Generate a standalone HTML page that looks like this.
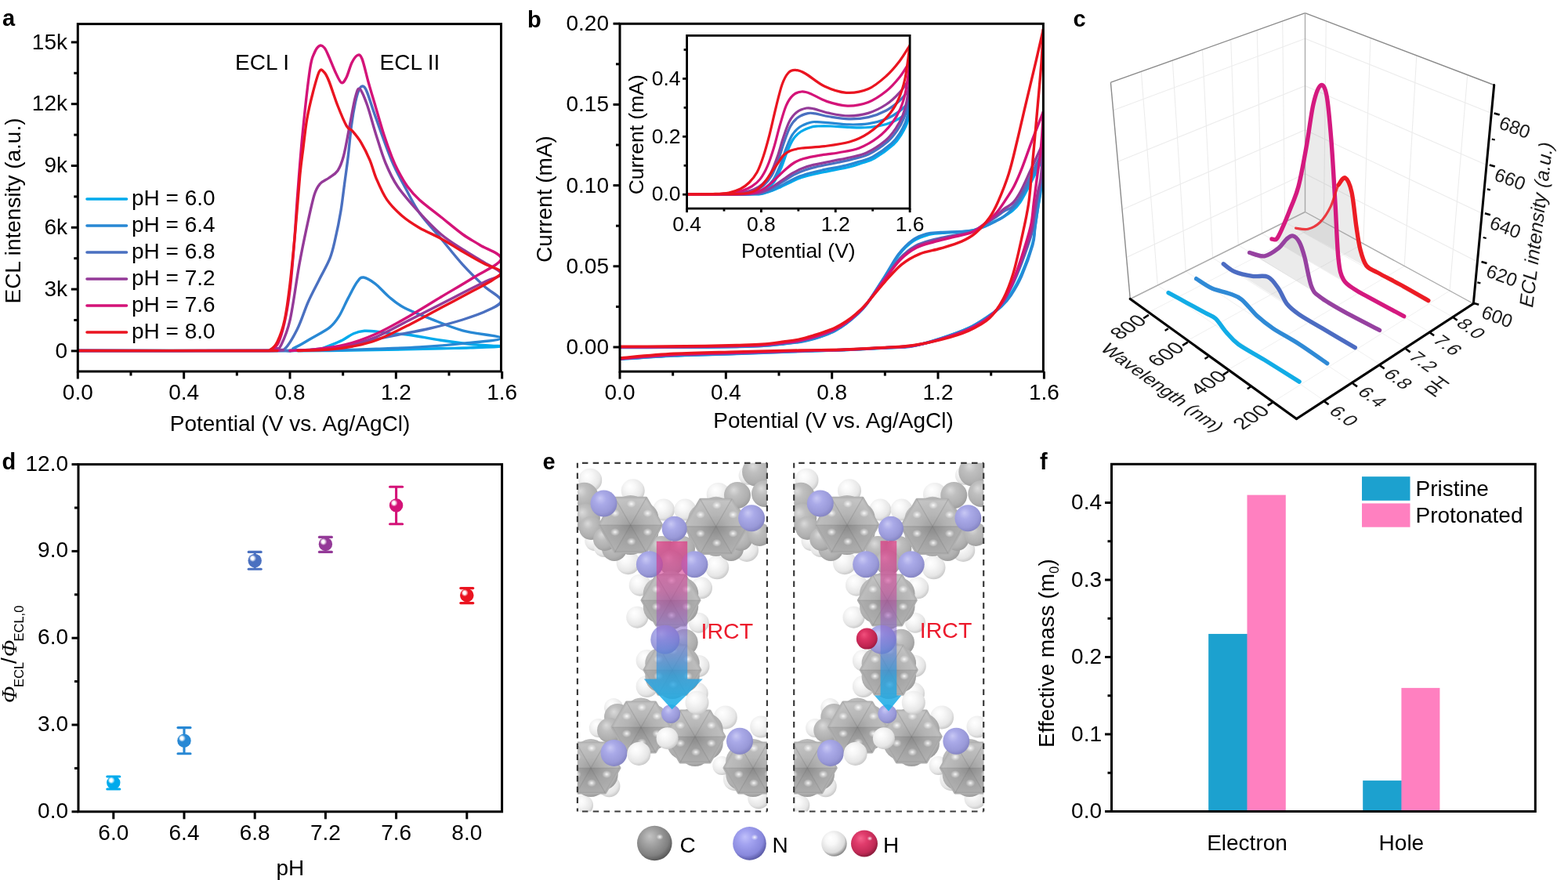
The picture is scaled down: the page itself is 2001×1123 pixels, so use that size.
<!DOCTYPE html>
<html lang="en"><head><meta charset="utf-8"><title>ECL figure</title><style>html,body{margin:0;padding:0;background:#fff;overflow:hidden}svg{display:block}</style></head><body>
<svg width="2001" height="1123" viewBox="0 0 2001 1123">
<defs><clipPath id="clipA"><rect x="99.3" y="30.6" width="540.2" height="443.4"/></clipPath><clipPath id="clipB"><rect x="791" y="30.3" width="540.4" height="443.8"/></clipPath><clipPath id="clipI"><rect x="876.6" y="45.4" width="284.5" height="220.7"/></clipPath><radialGradient id="ball0" cx="0.36" cy="0.34" r="0.62" fx="0.34" fy="0.32"><stop offset="0" stop-color="#ffffff"/><stop offset="0.18" stop-color="#ffffff" stop-opacity="0.85"/><stop offset="0.42" stop-color="#00AAEC"/><stop offset="1" stop-color="#00AAEC"/></radialGradient>
<radialGradient id="ball1" cx="0.36" cy="0.34" r="0.62" fx="0.34" fy="0.32"><stop offset="0" stop-color="#ffffff"/><stop offset="0.18" stop-color="#ffffff" stop-opacity="0.85"/><stop offset="0.42" stop-color="#2888D4"/><stop offset="1" stop-color="#2888D4"/></radialGradient>
<radialGradient id="ball2" cx="0.36" cy="0.34" r="0.62" fx="0.34" fy="0.32"><stop offset="0" stop-color="#ffffff"/><stop offset="0.18" stop-color="#ffffff" stop-opacity="0.85"/><stop offset="0.42" stop-color="#4A70C0"/><stop offset="1" stop-color="#4A70C0"/></radialGradient>
<radialGradient id="ball3" cx="0.36" cy="0.34" r="0.62" fx="0.34" fy="0.32"><stop offset="0" stop-color="#ffffff"/><stop offset="0.18" stop-color="#ffffff" stop-opacity="0.85"/><stop offset="0.42" stop-color="#943A98"/><stop offset="1" stop-color="#943A98"/></radialGradient>
<radialGradient id="ball4" cx="0.36" cy="0.34" r="0.62" fx="0.34" fy="0.32"><stop offset="0" stop-color="#ffffff"/><stop offset="0.18" stop-color="#ffffff" stop-opacity="0.85"/><stop offset="0.42" stop-color="#D41378"/><stop offset="1" stop-color="#D41378"/></radialGradient>
<radialGradient id="ball5" cx="0.36" cy="0.34" r="0.62" fx="0.34" fy="0.32"><stop offset="0" stop-color="#ffffff"/><stop offset="0.18" stop-color="#ffffff" stop-opacity="0.85"/><stop offset="0.42" stop-color="#EA1420"/><stop offset="1" stop-color="#EA1420"/></radialGradient><radialGradient id="gC" cx="0.42" cy="0.38" r="0.62" fx="0.36" fy="0.3"><stop offset="0" stop-color="#dadada"/><stop offset="0.35" stop-color="#bfbfbf"/><stop offset="0.8" stop-color="#afafaf"/><stop offset="1" stop-color="#9e9e9e"/></radialGradient>
<radialGradient id="gH" cx="0.42" cy="0.38" r="0.62" fx="0.36" fy="0.3"><stop offset="0" stop-color="#ffffff"/><stop offset="0.35" stop-color="#f7f7f7"/><stop offset="0.8" stop-color="#e6e6e6"/><stop offset="1" stop-color="#cbcbcb"/></radialGradient>
<radialGradient id="gN" cx="0.42" cy="0.38" r="0.62" fx="0.36" fy="0.3"><stop offset="0" stop-color="#c8c8f4"/><stop offset="0.35" stop-color="#aaaae8"/><stop offset="0.8" stop-color="#9999d8"/><stop offset="1" stop-color="#8686c4"/></radialGradient>
<radialGradient id="gP" cx="0.42" cy="0.38" r="0.62" fx="0.36" fy="0.3"><stop offset="0" stop-color="#f0507c"/><stop offset="0.35" stop-color="#dc3464"/><stop offset="0.8" stop-color="#c02552"/><stop offset="1" stop-color="#a01c44"/></radialGradient>
<radialGradient id="gCL" cx="0.42" cy="0.38" r="0.62" fx="0.36" fy="0.3"><stop offset="0" stop-color="#c2c2c2"/><stop offset="0.35" stop-color="#a4a4a4"/><stop offset="0.8" stop-color="#808080"/><stop offset="1" stop-color="#5a5a5a"/></radialGradient>
<radialGradient id="gNL" cx="0.42" cy="0.38" r="0.62" fx="0.36" fy="0.3"><stop offset="0" stop-color="#c0c0fa"/><stop offset="0.35" stop-color="#a2a2f0"/><stop offset="0.8" stop-color="#8888dc"/><stop offset="1" stop-color="#5c5ca8"/></radialGradient>
<radialGradient id="gHL" cx="0.42" cy="0.38" r="0.62" fx="0.36" fy="0.3"><stop offset="0" stop-color="#ffffff"/><stop offset="0.35" stop-color="#f8f8f8"/><stop offset="0.8" stop-color="#dcdcdc"/><stop offset="1" stop-color="#8a8a8a"/></radialGradient>
<radialGradient id="gPL" cx="0.42" cy="0.38" r="0.62" fx="0.36" fy="0.3"><stop offset="0" stop-color="#f4628c"/><stop offset="0.35" stop-color="#e03c6c"/><stop offset="0.8" stop-color="#c22a56"/><stop offset="1" stop-color="#8c1c3c"/></radialGradient>
<radialGradient id="gHex" cx="0.5" cy="0.5" r="0.5"><stop offset="0" stop-color="#939393"/><stop offset="0.45" stop-color="#ababab"/><stop offset="1" stop-color="#bababa"/></radialGradient>
<radialGradient id="gHi"><stop offset="0" stop-color="#fff" stop-opacity="0.9"/><stop offset="0.45" stop-color="#fff" stop-opacity="0.45"/><stop offset="1" stop-color="#fff" stop-opacity="0"/></radialGradient>
<linearGradient id="gArrow" x1="0" y1="0" x2="0" y2="1"><stop offset="0" stop-color="#e0287a" stop-opacity="0.66"/><stop offset="0.3" stop-color="#c8409a" stop-opacity="0.55"/><stop offset="0.55" stop-color="#7a6ad0" stop-opacity="0.55"/><stop offset="0.8" stop-color="#2aa0e0" stop-opacity="0.78"/><stop offset="1" stop-color="#18b0e8" stop-opacity="0.9"/></linearGradient>
<clipPath id="clipE0"><rect x="736.9" y="590.8" width="242" height="444.7"/></clipPath>
<clipPath id="clipE1"><rect x="1013.2" y="590.8" width="242" height="444.7"/></clipPath></defs>
<rect width="2001" height="1123" fill="#fff"/>
<text x="3" y="33" font-size="29" text-anchor="start" font-weight="bold" fill="#000" font-family='"Liberation Sans", Arial, Helvetica, sans-serif'>a</text>
<g clip-path="url(#clipA)" fill="none" stroke-width="3.4" stroke-linejoin="round" stroke-linecap="round">
<path d="M99.3,447.5 C146.08,447.5 329.05,447.67 380,447.5 C430.95,447.33 398.17,447.62 405,446.5 C411.83,445.38 415.63,442.9 421,440.8 C426.37,438.7 432.18,436.42 437.2,433.9 C442.22,431.38 446.47,427.63 451.1,425.7 C455.73,423.77 459.58,422.68 465,422.3 C470.42,421.92 477.8,422.83 483.6,423.4 C489.4,423.97 493.5,425.05 499.8,425.7 C506.1,426.35 510.9,425.88 521.4,427.3 C531.9,428.72 549,432.13 562.8,434.2 C576.6,436.27 591.42,438.4 604.2,439.7 C616.98,441 640.2,441.32 639.5,442 C638.8,442.68 612.78,443.35 600,443.8 C587.22,444.25 582.8,444.23 562.8,444.7 C542.8,445.17 503.8,446.13 480,446.6 C456.2,447.07 436.67,447.35 420,447.5 C403.33,447.65 386.67,447.5 380,447.5" stroke="#00AAEC"/>
<path d="M99.3,447.5 C141.92,447.5 309.1,448.03 355,447.5 C400.9,446.97 367.55,446.97 374.7,444.3 C381.85,441.63 390.18,435.95 397.9,431.5 C405.62,427.05 415.22,422.23 421,417.6 C426.78,412.97 428.73,409.87 432.6,403.7 C436.47,397.53 440.33,387.92 444.2,380.6 C448.07,373.28 452.52,364.23 455.8,359.8 C459.08,355.37 460.05,353.62 463.9,354 C467.75,354.38 473.45,357.93 478.9,362.1 C484.35,366.27 490.43,373.88 496.6,379 C502.77,384.12 507.17,388.2 515.9,392.8 C524.63,397.4 536.58,401.77 549,406.6 C561.42,411.43 575.32,417.65 590.4,421.8 C605.48,425.95 639.5,428.73 639.5,431.5 C639.5,434.27 607.78,436.48 590.4,438.4 C573.02,440.32 553.6,441.85 535.2,443 C516.8,444.15 499.2,444.63 480,445.3 C460.8,445.97 436.67,446.63 420,447 C403.33,447.37 386.67,447.42 380,447.5" stroke="#2888D4"/>
<path d="M99.3,447.5 C140.75,447.5 304.02,447.85 348,447.5 C391.98,447.15 357.97,449.98 363.2,445.4 C368.43,440.82 374.38,430.03 379.4,420 C384.42,409.97 388.68,395.63 393.3,385.2 C397.92,374.77 402.48,366.65 407.1,357.4 C411.72,348.15 417.52,338.57 421,329.7 C424.48,320.83 425.68,314.23 428,304.2 C430.32,294.17 432.97,281.08 434.9,269.5 C436.83,257.92 438.05,246.28 439.6,234.7 C441.15,223.12 442.72,212.45 444.2,200 C445.68,187.55 446.97,171.5 448.5,160 C450.03,148.5 451.82,138.5 453.4,131 C454.98,123.5 456.43,118.5 458,115 C459.57,111.5 461.07,109.58 462.8,110 C464.53,110.42 465.6,110.8 468.4,117.5 C471.2,124.2 474.33,135.57 479.6,150.2 C484.87,164.83 493.6,190.17 500,205.3 C506.4,220.43 512.13,229.98 518,241 C523.87,252.02 527.73,260.82 535.2,271.4 C542.67,281.98 553.6,293.47 562.8,304.5 C572,315.53 581.2,327.48 590.4,337.6 C599.6,347.72 609.82,357.6 618,365.2 C626.18,372.8 638.58,378.13 639.5,383.2 C640.42,388.27 631.68,391.47 623.5,395.6 C615.32,399.73 602.82,404.1 590.4,408 C577.98,411.9 562.8,415.78 549,419 C535.2,422.22 519.1,425 507.6,427.3 C496.1,429.6 491.27,430.52 480,432.8 C468.73,435.08 453.33,438.8 440,441 C426.67,443.2 411.67,444.92 400,446 C388.33,447.08 375,447.25 370,447.5" stroke="#4A70C0"/>
<path d="M99.3,447.5 C139.42,447.5 297.88,447.92 340,447.5 C382.12,447.08 348.92,446.12 352,445 C355.08,443.88 355.48,446.9 358.5,440.8 C361.52,434.7 366.23,425.38 370.1,408.4 C373.97,391.42 378.23,358.2 381.7,338.9 C385.17,319.6 387.68,307.58 390.9,292.6 C394.12,277.62 398.07,258.68 401,249 C403.93,239.32 405.37,238.17 408.5,234.5 C411.63,230.83 416.05,229.8 419.8,227 C423.55,224.2 427.88,222.37 431,217.7 C434.12,213.03 436,208.35 438.5,199 C441,189.65 443.52,174.07 446,161.6 C448.48,149.13 451.23,132.22 453.4,124.2 C455.57,116.18 456.5,111.95 459,113.5 C461.5,115.05 464.97,123.93 468.4,133.5 C471.83,143.07 475.67,158.48 479.6,170.9 C483.53,183.32 487.33,196.77 492,208 C496.67,219.23 500.4,227.73 507.6,238.3 C514.8,248.87 526,261.28 535.2,271.4 C544.4,281.52 553.6,291.18 562.8,299 C572,306.82 581.2,312.32 590.4,318.3 C599.6,324.28 609.82,329.75 618,334.9 C626.18,340.05 639.17,345.18 639.5,349.2 C639.83,353.22 628.25,354.87 620,359 C611.75,363.13 599.53,369.17 590,374 C580.47,378.83 574.23,382.17 562.8,388 C551.37,393.83 535.2,402 521.4,409 C507.6,416 493.57,424.58 480,430 C466.43,435.42 453.33,438.75 440,441.5 C426.67,444.25 411.67,445.5 400,446.5 C388.33,447.5 375,447.33 370,447.5" stroke="#943A98"/>
<path d="M99.3,447.5 C138.58,447.5 293.88,447.75 335,447.5 C376.12,447.25 342.67,447.58 346,446 C349.33,444.42 352.17,443.67 355,438 C357.83,432.33 360.5,423.33 363,412 C365.5,400.67 367.92,387 370,370 C372.08,353 373.9,330 375.5,310 C377.1,290 377.83,273.17 379.6,250 C381.37,226.83 383.45,197.9 386.1,171 C388.75,144.1 393.02,105.77 395.5,88.6 C397.98,71.43 398.98,73.02 401,68 C403.02,62.98 405.43,59.67 407.6,58.5 C409.77,57.33 411.93,58.58 414,61 C416.07,63.42 417.67,67.83 420,73 C422.33,78.17 425.38,86.58 428,92 C430.62,97.42 433.37,104.33 435.7,105.5 C438.03,106.67 439.78,103.25 442,99 C444.22,94.75 446.63,84.75 449,80 C451.37,75.25 454.03,71.33 456.2,70.5 C458.37,69.67 459.65,69.17 462,75 C464.35,80.83 467.37,95.13 470.3,105.5 C473.23,115.87 476.32,126.12 479.6,137.2 C482.88,148.28 486.6,161.53 490,172 C493.4,182.47 497.07,192.5 500,200 C502.93,207.5 504.27,210.67 507.6,217 C510.93,223.33 515.4,231.68 520,238 C524.6,244.32 528.07,248.4 535.2,254.9 C542.33,261.4 553.6,269.65 562.8,277 C572,284.35 582.12,293.03 590.4,299 C598.68,304.97 604.32,307.52 612.5,312.8 C620.68,318.08 640.88,323.8 639.5,330.7 C638.12,337.6 616.98,346.15 604.2,354.2 C591.42,362.25 576.6,370.72 562.8,379 C549,387.28 535.2,396.07 521.4,403.9 C507.6,411.73 493.57,419.98 480,426 C466.43,432.02 453.33,436.67 440,440 C426.67,443.33 411.67,444.75 400,446 C388.33,447.25 375,447.25 370,447.5" stroke="#D41378"/>
<path d="M99.3,447.5 C138.25,447.5 292.12,447.67 333,447.5 C373.88,447.33 341.12,448.38 344.6,446.5 C348.08,444.62 350.8,442.55 353.9,436.2 C357,429.85 360.5,420.77 363.2,408.4 C365.9,396.03 367.8,381.3 370.1,362 C372.4,342.7 374.88,315.73 377,292.6 C379.12,269.47 381.17,240.3 382.8,223.2 C384.43,206.1 385.32,201.83 386.8,190 C388.28,178.17 389.63,164.12 391.7,152.2 C393.77,140.28 396.55,128.7 399.2,118.5 C401.85,108.3 405.13,95.33 407.6,91 C410.07,86.67 411.97,90.42 414,92.5 C416.03,94.58 416.97,96.42 419.8,103.5 C422.63,110.58 427.27,125.48 431,135 C434.73,144.52 439.08,155.23 442.2,160.6 C445.32,165.97 446.58,163.62 449.7,167.2 C452.82,170.78 457.17,175.87 460.9,182.1 C464.63,188.33 468.92,197.07 472.1,204.6 C475.28,212.13 476.38,218.92 480,227.3 C483.62,235.68 488.28,246.87 493.8,254.9 C499.32,262.93 506.2,269.53 513.1,275.5 C520,281.47 526.92,285.87 535.2,290.7 C543.48,295.53 553.6,299.43 562.8,304.5 C572,309.57 581.2,315.75 590.4,321.1 C599.6,326.45 609.82,332.37 618,336.6 C626.18,340.83 637.67,343.1 639.5,346.5 C641.33,349.9 634.88,352.95 629,357 C623.12,361.05 615.23,364.83 604.2,370.8 C593.17,376.77 576.6,385.45 562.8,392.8 C549,400.15 535.2,408 521.4,414.9 C507.6,421.8 491.9,429.68 480,434.2 C468.1,438.72 460,440.03 450,442 C440,443.97 431.67,445.08 420,446 C408.33,446.92 386.67,447.25 380,447.5" stroke="#EA1420"/>
</g>
<rect x="99.3" y="30.6" width="540.2" height="443.4" fill="none" stroke="#000" stroke-width="3"/>
<line x1="90.8" y1="447.9" x2="99.3" y2="447.9" stroke="#000" stroke-width="3" stroke-linecap="butt"/>
<text x="86" y="456.6" font-size="28" text-anchor="end" font-weight="normal" fill="#000" font-family='"Liberation Sans", Arial, Helvetica, sans-serif'>0</text>
<line x1="90.8" y1="369.1" x2="99.3" y2="369.1" stroke="#000" stroke-width="3" stroke-linecap="butt"/>
<text x="86" y="377.8" font-size="28" text-anchor="end" font-weight="normal" fill="#000" font-family='"Liberation Sans", Arial, Helvetica, sans-serif'>3k</text>
<line x1="90.8" y1="290.3" x2="99.3" y2="290.3" stroke="#000" stroke-width="3" stroke-linecap="butt"/>
<text x="86" y="299" font-size="28" text-anchor="end" font-weight="normal" fill="#000" font-family='"Liberation Sans", Arial, Helvetica, sans-serif'>6k</text>
<line x1="90.8" y1="211.5" x2="99.3" y2="211.5" stroke="#000" stroke-width="3" stroke-linecap="butt"/>
<text x="86" y="220.2" font-size="28" text-anchor="end" font-weight="normal" fill="#000" font-family='"Liberation Sans", Arial, Helvetica, sans-serif'>9k</text>
<line x1="90.8" y1="132.7" x2="99.3" y2="132.7" stroke="#000" stroke-width="3" stroke-linecap="butt"/>
<text x="86" y="141.4" font-size="28" text-anchor="end" font-weight="normal" fill="#000" font-family='"Liberation Sans", Arial, Helvetica, sans-serif'>12k</text>
<line x1="90.8" y1="53.9" x2="99.3" y2="53.9" stroke="#000" stroke-width="3" stroke-linecap="butt"/>
<text x="86" y="62.6" font-size="28" text-anchor="end" font-weight="normal" fill="#000" font-family='"Liberation Sans", Arial, Helvetica, sans-serif'>15k</text>
<line x1="94.3" y1="408.5" x2="99.3" y2="408.5" stroke="#000" stroke-width="3" stroke-linecap="butt"/>
<line x1="94.3" y1="329.7" x2="99.3" y2="329.7" stroke="#000" stroke-width="3" stroke-linecap="butt"/>
<line x1="94.3" y1="250.9" x2="99.3" y2="250.9" stroke="#000" stroke-width="3" stroke-linecap="butt"/>
<line x1="94.3" y1="172.1" x2="99.3" y2="172.1" stroke="#000" stroke-width="3" stroke-linecap="butt"/>
<line x1="94.3" y1="93.3" x2="99.3" y2="93.3" stroke="#000" stroke-width="3" stroke-linecap="butt"/>
<line x1="99.3" y1="474" x2="99.3" y2="483.5" stroke="#000" stroke-width="3" stroke-linecap="butt"/>
<text x="99.3" y="510" font-size="28" text-anchor="middle" font-weight="normal" fill="#000" font-family='"Liberation Sans", Arial, Helvetica, sans-serif'>0.0</text>
<line x1="234.65" y1="474" x2="234.65" y2="483.5" stroke="#000" stroke-width="3" stroke-linecap="butt"/>
<text x="234.65" y="510" font-size="28" text-anchor="middle" font-weight="normal" fill="#000" font-family='"Liberation Sans", Arial, Helvetica, sans-serif'>0.4</text>
<line x1="370" y1="474" x2="370" y2="483.5" stroke="#000" stroke-width="3" stroke-linecap="butt"/>
<text x="370" y="510" font-size="28" text-anchor="middle" font-weight="normal" fill="#000" font-family='"Liberation Sans", Arial, Helvetica, sans-serif'>0.8</text>
<line x1="505.35" y1="474" x2="505.35" y2="483.5" stroke="#000" stroke-width="3" stroke-linecap="butt"/>
<text x="505.35" y="510" font-size="28" text-anchor="middle" font-weight="normal" fill="#000" font-family='"Liberation Sans", Arial, Helvetica, sans-serif'>1.2</text>
<line x1="640.7" y1="474" x2="640.7" y2="483.5" stroke="#000" stroke-width="3" stroke-linecap="butt"/>
<text x="640.7" y="510" font-size="28" text-anchor="middle" font-weight="normal" fill="#000" font-family='"Liberation Sans", Arial, Helvetica, sans-serif'>1.6</text>
<line x1="166.97" y1="474" x2="166.97" y2="479.5" stroke="#000" stroke-width="3" stroke-linecap="butt"/>
<line x1="302.32" y1="474" x2="302.32" y2="479.5" stroke="#000" stroke-width="3" stroke-linecap="butt"/>
<line x1="437.67" y1="474" x2="437.67" y2="479.5" stroke="#000" stroke-width="3" stroke-linecap="butt"/>
<line x1="573.02" y1="474" x2="573.02" y2="479.5" stroke="#000" stroke-width="3" stroke-linecap="butt"/>
<text x="370" y="549.5" font-size="28" text-anchor="middle" font-weight="normal" fill="#000" font-family='"Liberation Sans", Arial, Helvetica, sans-serif'>Potential (V vs. Ag/AgCl)</text>
<text x="0" y="0" font-size="28" text-anchor="middle" font-weight="normal" fill="#000" font-family='"Liberation Sans", Arial, Helvetica, sans-serif' transform="translate(25.5,269) rotate(-90)">ECL intensity (a.u.)</text>
<text x="300" y="89" font-size="28" text-anchor="start" font-weight="normal" fill="#000" font-family='"Liberation Sans", Arial, Helvetica, sans-serif'>ECL I</text>
<text x="484.5" y="89" font-size="28" text-anchor="start" font-weight="normal" fill="#000" font-family='"Liberation Sans", Arial, Helvetica, sans-serif'>ECL II</text>
<line x1="111" y1="254" x2="161.5" y2="254" stroke="#00AAEC" stroke-width="3.6" stroke-linecap="round"/>
<text x="168" y="262.3" font-size="28" text-anchor="start" font-weight="normal" fill="#000" font-family='"Liberation Sans", Arial, Helvetica, sans-serif'>pH = 6.0</text>
<line x1="111" y1="288" x2="161.5" y2="288" stroke="#2888D4" stroke-width="3.6" stroke-linecap="round"/>
<text x="168" y="296.3" font-size="28" text-anchor="start" font-weight="normal" fill="#000" font-family='"Liberation Sans", Arial, Helvetica, sans-serif'>pH = 6.4</text>
<line x1="111" y1="322" x2="161.5" y2="322" stroke="#4A70C0" stroke-width="3.6" stroke-linecap="round"/>
<text x="168" y="330.3" font-size="28" text-anchor="start" font-weight="normal" fill="#000" font-family='"Liberation Sans", Arial, Helvetica, sans-serif'>pH = 6.8</text>
<line x1="111" y1="356" x2="161.5" y2="356" stroke="#943A98" stroke-width="3.6" stroke-linecap="round"/>
<text x="168" y="364.3" font-size="28" text-anchor="start" font-weight="normal" fill="#000" font-family='"Liberation Sans", Arial, Helvetica, sans-serif'>pH = 7.2</text>
<line x1="111" y1="390" x2="161.5" y2="390" stroke="#D41378" stroke-width="3.6" stroke-linecap="round"/>
<text x="168" y="398.3" font-size="28" text-anchor="start" font-weight="normal" fill="#000" font-family='"Liberation Sans", Arial, Helvetica, sans-serif'>pH = 7.6</text>
<line x1="111" y1="424" x2="161.5" y2="424" stroke="#EA1420" stroke-width="3.6" stroke-linecap="round"/>
<text x="168" y="432.3" font-size="28" text-anchor="start" font-weight="normal" fill="#000" font-family='"Liberation Sans", Arial, Helvetica, sans-serif'>pH = 8.0</text>
<text x="673" y="34.5" font-size="29" text-anchor="start" font-weight="bold" fill="#000" font-family='"Liberation Sans", Arial, Helvetica, sans-serif'>b</text>
<g clip-path="url(#clipB)" fill="none" stroke-width="3.4" stroke-linejoin="round" stroke-linecap="round">
<path d="M791,443.4 C800.83,443.38 831.83,443.34 850,443.29 C868.17,443.23 885,443.21 900,443.06 C915,442.92 927.95,442.72 940,442.43 C952.05,442.14 962.3,441.94 972.3,441.32 C982.3,440.71 991.98,439.61 1000,438.76 C1008.02,437.91 1013.73,437.4 1020.4,436.21 C1027.07,435.03 1034.67,433.07 1040,431.64 C1045.33,430.21 1048.07,429.28 1052.4,427.62 C1056.73,425.96 1061.4,424.16 1066,421.68 C1070.6,419.2 1075.5,416.07 1080,412.76 C1084.5,409.45 1088.68,405.93 1093,401.84 C1097.32,397.75 1099.88,396.33 1105.9,388.22 C1111.92,380.11 1122.22,363.68 1129.1,353.18 C1135.98,342.67 1141.14,332.76 1147.19,325.18 C1153.24,317.6 1159.29,311.95 1165.41,307.72 C1171.53,303.49 1177.75,301.51 1183.92,299.8 C1190.1,298.08 1193.65,298.24 1202.44,297.43 C1211.24,296.61 1228.06,296.23 1236.71,294.92 C1245.36,293.6 1248.76,291.7 1254.33,289.55 C1259.9,287.4 1265.75,284.15 1270.14,282 C1274.52,279.85 1276.99,278.84 1280.64,276.67 C1284.28,274.51 1288.46,272.11 1292,269 C1295.54,265.89 1298.23,263.5 1301.9,258 C1305.57,252.5 1309.08,245.55 1314,236 C1318.92,226.45 1328.5,206.58 1331.4,200.7" stroke="#00AAEC"/>
<path d="M1331.4,200.7 C1331.17,204.75 1330.57,217.62 1330,225 C1329.43,232.38 1328.84,238.62 1328,245 C1327.16,251.38 1326.14,255.88 1324.95,263.3 C1323.77,270.73 1322.09,281.61 1320.87,289.54 C1319.65,297.46 1320.51,300.84 1317.65,310.84 C1314.78,320.83 1308.27,338.87 1303.7,349.52 C1299.13,360.18 1294.49,367.99 1290.24,374.77 C1285.99,381.55 1282.79,385.54 1278.2,390.21 C1273.61,394.88 1269.73,398.01 1262.7,402.79 C1255.67,407.57 1246.4,414 1236,418.88 C1225.6,423.76 1212.18,428.25 1200.3,432.04 C1188.42,435.84 1176.57,439.64 1164.7,441.63 C1152.83,443.61 1143.22,443.15 1129.1,443.96 C1114.98,444.77 1098.12,445.72 1080,446.46 C1061.88,447.2 1043.73,447.57 1020.4,448.38 C997.07,449.19 966.76,450.39 940.02,451.29 C913.29,452.19 884.84,452.6 860.01,453.78 C835.17,454.96 802.51,457.61 791.02,458.37" stroke="#00AAEC"/>
<path d="M791,443.5 C800.83,443.48 831.83,443.45 850,443.4 C868.17,443.35 885,443.33 900,443.2 C915,443.07 927.95,442.88 940,442.6 C952.05,442.32 962.3,442.1 972.3,441.5 C982.3,440.9 991.98,439.83 1000,439 C1008.02,438.17 1013.73,437.67 1020.4,436.5 C1027.07,435.33 1034.67,433.42 1040,432 C1045.33,430.58 1048.07,429.67 1052.4,428 C1056.73,426.33 1061.4,424.5 1066,422 C1070.6,419.5 1075.5,416.33 1080,413 C1084.5,409.67 1088.68,406.12 1093,402 C1097.32,397.88 1099.88,396.53 1105.9,388.3 C1111.92,380.07 1122.27,363.3 1129.1,352.6 C1135.93,341.9 1140.97,331.82 1146.9,324.1 C1152.83,316.38 1158.77,310.6 1164.7,306.3 C1170.63,302 1176.57,299.93 1182.5,298.3 C1188.43,296.67 1191.38,297.1 1200.3,296.5 C1209.22,295.9 1227.07,295.75 1236,294.7 C1244.93,293.65 1248.19,292.22 1253.87,290.21 C1259.54,288.19 1265.59,284.9 1270.05,282.62 C1274.52,280.35 1276.97,279.25 1280.66,276.53 C1284.34,273.82 1288.61,270.03 1292.18,266.33 C1295.75,262.63 1298.41,260.18 1302.09,254.33 C1305.77,248.49 1309.36,241.01 1314.24,231.26 C1319.13,221.5 1328.54,201.71 1331.4,195.8" stroke="#2888D4"/>
<path d="M1331.4,195.8 C1331.16,199.93 1330.55,213.04 1329.97,220.59 C1329.4,228.14 1328.78,234.12 1327.94,241.1 C1327.1,248.08 1326.1,254.2 1324.93,262.46 C1323.76,270.71 1322.11,282.23 1320.93,290.61 C1319.75,299 1320.71,302.48 1317.84,312.76 C1314.97,323.04 1308.34,341.6 1303.7,352.31 C1299.06,363.02 1294.28,370.55 1290,377 C1285.72,383.45 1282.55,386.75 1278,391 C1273.45,395.25 1269.7,397.9 1262.7,402.5 C1255.7,407.1 1246.4,413.7 1236,418.6 C1225.6,423.5 1212.18,428.05 1200.3,431.9 C1188.42,435.75 1176.57,439.68 1164.7,441.7 C1152.83,443.72 1143.22,443.2 1129.1,444 C1114.98,444.8 1098.12,445.75 1080,446.5 C1061.88,447.25 1043.73,447.67 1020.4,448.5 C997.07,449.33 966.73,450.58 940,451.5 C913.27,452.42 884.83,452.83 860,454 C835.17,455.17 802.5,457.75 791,458.5" stroke="#2888D4"/>
<path d="M791,442.95 C800.83,442.93 831.83,442.89 850,442.81 C868.17,442.73 885,442.67 900,442.49 C915,442.3 927.95,442.04 940,441.72 C952.05,441.4 962.3,441.24 972.3,440.58 C982.3,439.91 991.98,438.67 1000,437.74 C1008.02,436.81 1013.73,436.26 1020.4,434.99 C1027.07,433.72 1034.67,431.6 1040,430.11 C1045.33,428.62 1048.07,427.66 1052.4,426.03 C1056.73,424.39 1061.4,422.7 1066,420.32 C1070.6,417.94 1075.5,414.93 1080,411.74 C1084.5,408.55 1088.68,405.14 1093,401.16 C1097.32,397.18 1099.88,395.47 1105.9,387.88 C1111.92,380.29 1122.01,365.31 1129.1,355.62 C1136.19,345.94 1141.86,336.74 1148.41,329.77 C1154.97,322.8 1161.51,317.71 1168.44,313.78 C1175.37,309.84 1182.79,308.22 1189.98,306.15 C1197.16,304.09 1203.26,303.09 1211.56,301.37 C1219.85,299.65 1232.21,298.37 1239.74,295.83 C1247.27,293.3 1251.56,289.31 1256.74,286.18 C1261.92,283.04 1266.68,279.8 1270.82,277 C1274.95,274.2 1277.94,271.58 1281.54,269.36 C1285.13,267.13 1288.9,266.77 1292.36,263.66 C1295.82,260.55 1298.6,256.86 1302.28,250.67 C1305.97,244.48 1309.63,236.48 1314.49,226.51 C1319.34,216.55 1328.58,196.84 1331.4,190.9" stroke="#4A70C0"/>
<path d="M1331.4,190.9 C1331.16,195.11 1330.53,208.46 1329.95,216.17 C1329.36,223.89 1328.77,231.39 1327.88,237.2 C1326.99,243.01 1325.9,244.49 1324.62,251.01 C1323.33,257.52 1321.55,268.35 1320.18,276.29 C1318.82,284.23 1319.18,288.73 1316.44,298.66 C1313.69,308.59 1307.9,324.76 1303.7,335.86 C1299.5,346.96 1295.37,356.79 1291.26,365.28 C1287.15,373.78 1283.81,380.39 1279.05,386.84 C1274.29,393.3 1269.88,398.47 1262.7,404.01 C1255.53,409.55 1246.4,415.3 1236,420.07 C1225.6,424.84 1212.18,429.11 1200.3,432.66 C1188.42,436.2 1176.57,439.47 1164.7,441.32 C1152.83,443.18 1143.22,442.96 1129.1,443.79 C1114.98,444.62 1098.12,445.61 1080,446.29 C1061.88,446.97 1043.71,447.18 1020.4,447.87 C997.09,448.56 966.85,449.58 940.13,450.41 C913.4,451.24 884.88,451.63 860.04,452.87 C835.2,454.1 802.58,457 791.08,457.83" stroke="#4A70C0"/>
<path d="M791,442.88 C800.83,442.85 831.83,442.81 850,442.73 C868.17,442.65 885,442.57 900,442.38 C915,442.19 927.95,441.92 940,441.59 C952.05,441.27 962.3,441.12 972.3,440.44 C982.3,439.77 991.98,438.51 1000,437.56 C1008.02,436.61 1013.73,436.06 1020.4,434.77 C1027.07,433.49 1034.67,431.34 1040,429.84 C1045.33,428.34 1048.07,427.37 1052.4,425.74 C1056.73,424.12 1061.4,422.44 1066,420.08 C1070.6,417.72 1075.5,414.73 1080,411.56 C1084.5,408.39 1088.68,405 1093,401.04 C1097.32,397.08 1099.88,395.32 1105.9,387.82 C1111.92,380.32 1121.98,365.6 1129.1,356.06 C1136.22,346.52 1141.98,337.45 1148.63,330.58 C1155.27,323.71 1161.9,318.73 1168.97,314.84 C1176.04,310.96 1183.68,309.41 1191.04,307.28 C1198.41,305.15 1204.96,303.95 1213.16,302.07 C1221.37,300.19 1232.92,298.77 1240.27,296 C1247.62,293.22 1252.14,288.85 1257.26,285.44 C1262.38,282.04 1266.9,278.77 1271.01,275.56 C1275.12,272.35 1278.31,268.99 1281.92,266.19 C1285.54,263.39 1289.24,262.47 1292.69,258.76 C1296.14,255.06 1298.93,250.77 1302.64,243.95 C1306.34,237.12 1310.14,228.16 1314.93,217.82 C1319.73,207.48 1328.66,187.9 1331.4,181.92" stroke="#943A98"/>
<path d="M1331.4,181.92 C1331.15,186.28 1330.5,200.06 1329.9,208.08 C1329.29,216.11 1328.68,223.89 1327.77,230.05 C1326.86,236.21 1325.76,238.1 1324.45,245.07 C1323.15,252.05 1321.34,263.49 1319.96,271.9 C1318.57,280.32 1318.84,285.38 1316.13,295.56 C1313.42,305.75 1307.81,321.68 1303.7,333.02 C1299.59,344.36 1295.52,354.74 1291.44,363.61 C1287.36,372.48 1283.99,379.48 1279.2,386.25 C1274.41,393.02 1269.9,398.56 1262.7,404.23 C1255.5,409.9 1246.4,415.52 1236,420.28 C1225.6,425.04 1212.18,429.27 1200.3,432.76 C1188.42,436.26 1176.57,439.44 1164.7,441.27 C1152.83,443.1 1143.22,442.93 1129.1,443.76 C1114.98,444.59 1098.12,445.59 1080,446.26 C1061.88,446.93 1043.71,447.11 1020.4,447.78 C997.09,448.45 966.87,449.43 940.14,450.25 C913.42,451.07 884.89,451.46 860.05,452.7 C835.21,453.95 802.59,456.89 791.1,457.73" stroke="#943A98"/>
<path d="M791,442.78 C800.83,442.76 831.83,442.72 850,442.63 C868.17,442.54 885,442.46 900,442.26 C915,442.07 927.95,441.77 940,441.44 C952.05,441.12 962.3,440.97 972.3,440.29 C982.3,439.61 991.98,438.31 1000,437.35 C1008.02,436.39 1013.73,435.82 1020.4,434.52 C1027.07,433.22 1034.67,431.04 1040,429.52 C1045.33,428.01 1048.07,427.04 1052.4,425.42 C1056.73,423.79 1061.4,422.14 1066,419.8 C1070.6,417.46 1075.5,414.5 1080,411.35 C1084.5,408.2 1088.68,404.83 1093,400.9 C1097.32,396.97 1099.88,395.14 1105.9,387.75 C1111.92,380.36 1121.94,365.93 1129.1,356.56 C1136.26,347.19 1142.13,338.27 1148.88,331.53 C1155.63,324.78 1162.36,319.91 1169.6,316.09 C1176.83,312.27 1184.72,310.79 1192.29,308.58 C1199.86,306.38 1206.94,304.95 1215.04,302.88 C1223.14,300.81 1233.69,299.33 1240.89,296.19 C1248.1,293.04 1253.15,288.12 1258.26,284.03 C1263.37,279.95 1267.37,276.52 1271.54,271.69 C1275.71,266.86 1279.52,260.78 1283.29,255.07 C1287.05,249.36 1290.65,244.15 1294.13,237.41 C1297.61,230.66 1300.38,224.21 1304.17,214.62 C1307.96,205.03 1312.34,191.86 1316.88,179.87 C1321.41,167.89 1328.98,148.92 1331.4,142.73" stroke="#D41378"/>
<path d="M1331.4,142.73 C1331.11,147.74 1330.37,163.43 1329.68,172.78 C1329,182.13 1328.26,190.44 1327.29,198.85 C1326.32,207.26 1325.19,213.27 1323.86,223.24 C1322.52,233.2 1320.68,247.83 1319.27,258.66 C1317.86,269.49 1317.99,276.63 1315.4,288.2 C1312.8,299.76 1307.66,315.78 1303.7,328.02 C1299.74,340.26 1295.7,352.07 1291.65,361.66 C1287.6,371.24 1284.2,378.42 1279.38,385.56 C1274.55,392.69 1269.93,398.65 1262.7,404.48 C1255.47,410.31 1246.4,415.79 1236,420.53 C1225.6,425.26 1212.18,429.44 1200.3,432.89 C1188.42,436.34 1176.57,439.4 1164.7,441.2 C1152.83,443.01 1143.22,442.89 1129.1,443.73 C1114.98,444.56 1098.12,445.57 1080,446.23 C1061.88,446.88 1043.71,447.03 1020.4,447.68 C997.09,448.32 966.89,449.26 940.16,450.07 C913.44,450.88 884.9,451.26 860.06,452.51 C835.21,453.77 802.6,456.77 791.11,457.62" stroke="#D41378"/>
<path d="M791,442.2 C800.83,442.17 831.83,442.12 850,442 C868.17,441.88 885,441.75 900,441.5 C915,441.25 927.95,440.87 940,440.5 C952.05,440.13 962.3,440.05 972.3,439.3 C982.3,438.55 991.98,437.07 1000,436 C1008.02,434.93 1013.73,434.32 1020.4,432.9 C1027.07,431.48 1034.67,429.1 1040,427.5 C1045.33,425.9 1048.07,424.88 1052.4,423.3 C1056.73,421.72 1061.4,420.22 1066,418 C1070.6,415.78 1075.5,413 1080,410 C1084.5,407 1088.68,403.78 1093,400 C1097.32,396.22 1099.88,394 1105.9,387.3 C1111.92,380.6 1121.67,368.08 1129.1,359.8 C1136.53,351.52 1143.08,343.55 1150.5,337.6 C1157.92,331.65 1165.3,327.53 1173.6,324.1 C1181.9,320.67 1191.38,319.67 1200.3,317 C1209.22,314.33 1219.67,311.37 1227.1,308.1 C1234.53,304.83 1238.97,302.45 1244.9,297.4 C1250.83,292.35 1257.95,284.37 1262.7,277.8 C1267.45,271.23 1269.28,267.38 1273.4,258 C1277.52,248.62 1283.3,234.5 1287.4,221.5 C1291.5,208.5 1294.52,194.28 1298,180 C1301.48,165.72 1304.28,152.82 1308.3,135.8 C1312.32,118.78 1318.25,94.3 1322.1,77.9 C1325.95,61.5 1329.85,44.15 1331.4,37.4" stroke="#EA1420"/>
<path d="M1331.4,37.4 C1331.02,44.15 1330,64.97 1329.1,77.9 C1328.2,90.83 1327.17,101.48 1326,115 C1324.83,128.52 1323.6,142.33 1322.1,159 C1320.6,175.67 1318.58,198.17 1317,215 C1315.42,231.83 1314.82,245.08 1312.6,260 C1310.38,274.92 1306.97,289.65 1303.7,304.5 C1300.43,319.35 1296.87,336.33 1293,349.1 C1289.13,361.87 1285.55,371.6 1280.5,381.1 C1275.45,390.6 1270.12,399.27 1262.7,406.1 C1255.28,412.93 1246.4,417.5 1236,422.1 C1225.6,426.7 1212.18,430.58 1200.3,433.7 C1188.42,436.82 1176.57,439.17 1164.7,440.8 C1152.83,442.43 1143.22,442.63 1129.1,443.5 C1114.98,444.37 1098.12,445.42 1080,446 C1061.88,446.58 1043.68,446.52 1020.4,447 C997.12,447.48 967.02,448.18 940.3,448.9 C913.58,449.62 884.95,449.97 860.1,451.3 C835.25,452.63 802.68,455.97 791.2,456.9" stroke="#EA1420"/>
</g>
<rect x="791" y="30.3" width="540.4" height="443.8" fill="none" stroke="#000" stroke-width="3"/>
<line x1="782.5" y1="443" x2="791" y2="443" stroke="#000" stroke-width="3" stroke-linecap="butt"/>
<text x="777" y="452" font-size="28" text-anchor="end" font-weight="normal" fill="#000" font-family='"Liberation Sans", Arial, Helvetica, sans-serif'>0.00</text>
<line x1="782.5" y1="339.8" x2="791" y2="339.8" stroke="#000" stroke-width="3" stroke-linecap="butt"/>
<text x="777" y="348.8" font-size="28" text-anchor="end" font-weight="normal" fill="#000" font-family='"Liberation Sans", Arial, Helvetica, sans-serif'>0.05</text>
<line x1="782.5" y1="236.6" x2="791" y2="236.6" stroke="#000" stroke-width="3" stroke-linecap="butt"/>
<text x="777" y="245.6" font-size="28" text-anchor="end" font-weight="normal" fill="#000" font-family='"Liberation Sans", Arial, Helvetica, sans-serif'>0.10</text>
<line x1="782.5" y1="133.4" x2="791" y2="133.4" stroke="#000" stroke-width="3" stroke-linecap="butt"/>
<text x="777" y="142.4" font-size="28" text-anchor="end" font-weight="normal" fill="#000" font-family='"Liberation Sans", Arial, Helvetica, sans-serif'>0.15</text>
<line x1="782.5" y1="30.2" x2="791" y2="30.2" stroke="#000" stroke-width="3" stroke-linecap="butt"/>
<text x="777" y="39.2" font-size="28" text-anchor="end" font-weight="normal" fill="#000" font-family='"Liberation Sans", Arial, Helvetica, sans-serif'>0.20</text>
<line x1="786" y1="391.4" x2="791" y2="391.4" stroke="#000" stroke-width="3" stroke-linecap="butt"/>
<line x1="786" y1="288.2" x2="791" y2="288.2" stroke="#000" stroke-width="3" stroke-linecap="butt"/>
<line x1="786" y1="185" x2="791" y2="185" stroke="#000" stroke-width="3" stroke-linecap="butt"/>
<line x1="786" y1="81.8" x2="791" y2="81.8" stroke="#000" stroke-width="3" stroke-linecap="butt"/>
<line x1="791" y1="474.1" x2="791" y2="483.6" stroke="#000" stroke-width="3" stroke-linecap="butt"/>
<text x="791" y="510" font-size="28" text-anchor="middle" font-weight="normal" fill="#000" font-family='"Liberation Sans", Arial, Helvetica, sans-serif'>0.0</text>
<line x1="926.35" y1="474.1" x2="926.35" y2="483.6" stroke="#000" stroke-width="3" stroke-linecap="butt"/>
<text x="926.35" y="510" font-size="28" text-anchor="middle" font-weight="normal" fill="#000" font-family='"Liberation Sans", Arial, Helvetica, sans-serif'>0.4</text>
<line x1="1061.7" y1="474.1" x2="1061.7" y2="483.6" stroke="#000" stroke-width="3" stroke-linecap="butt"/>
<text x="1061.7" y="510" font-size="28" text-anchor="middle" font-weight="normal" fill="#000" font-family='"Liberation Sans", Arial, Helvetica, sans-serif'>0.8</text>
<line x1="1197.05" y1="474.1" x2="1197.05" y2="483.6" stroke="#000" stroke-width="3" stroke-linecap="butt"/>
<text x="1197.05" y="510" font-size="28" text-anchor="middle" font-weight="normal" fill="#000" font-family='"Liberation Sans", Arial, Helvetica, sans-serif'>1.2</text>
<line x1="1332.4" y1="474.1" x2="1332.4" y2="483.6" stroke="#000" stroke-width="3" stroke-linecap="butt"/>
<text x="1332.4" y="510" font-size="28" text-anchor="middle" font-weight="normal" fill="#000" font-family='"Liberation Sans", Arial, Helvetica, sans-serif'>1.6</text>
<line x1="858.67" y1="474.1" x2="858.67" y2="479.6" stroke="#000" stroke-width="3" stroke-linecap="butt"/>
<line x1="994.02" y1="474.1" x2="994.02" y2="479.6" stroke="#000" stroke-width="3" stroke-linecap="butt"/>
<line x1="1129.38" y1="474.1" x2="1129.38" y2="479.6" stroke="#000" stroke-width="3" stroke-linecap="butt"/>
<line x1="1264.72" y1="474.1" x2="1264.72" y2="479.6" stroke="#000" stroke-width="3" stroke-linecap="butt"/>
<text x="1063.5" y="546" font-size="28" text-anchor="middle" font-weight="normal" fill="#000" font-family='"Liberation Sans", Arial, Helvetica, sans-serif'>Potential (V vs. Ag/AgCl)</text>
<text x="0" y="0" font-size="28" text-anchor="middle" font-weight="normal" fill="#000" font-family='"Liberation Sans", Arial, Helvetica, sans-serif' transform="translate(703.6,254) rotate(-90)">Current (mA)</text>
<rect x="876.6" y="45.4" width="284.5" height="220.7" fill="#fff" stroke="none"/>
<g clip-path="url(#clipI)" fill="none" stroke-width="3.2" stroke-linejoin="round" stroke-linecap="round">
<path d="M877,248.5 C882.5,248.48 901.17,248.45 910,248.4 C918.83,248.35 923.33,248.33 930,248.2 C936.67,248.07 944.17,247.97 950,247.6 C955.83,247.23 960.5,246.93 965,246 C969.5,245.07 973.17,244.33 977,242 C980.83,239.67 984.67,236.67 988,232 C991.33,227.33 994.33,220.17 997,214 C999.67,207.83 1001.5,201 1004,195 C1006.5,189 1009,182.5 1012,178 C1015,173.5 1018,170.67 1022,168 C1026,165.33 1032.33,163.17 1036,162 C1039.67,160.83 1040,161.17 1044,161 C1048,160.83 1053.33,160.75 1060,161 C1066.67,161.25 1076,162.25 1084,162.5 C1092,162.75 1100.17,163.17 1108,162.5 C1115.83,161.83 1124.33,160.42 1131,158.5 C1137.67,156.58 1143,153.92 1148,151 C1153,148.08 1158.83,142.67 1161,141" stroke="#00AAEC"/>
<path d="M877,248.5 C882.5,248.48 899.5,248.43 910,248.4 C920.5,248.37 931.67,248.37 940,248.3 C948.33,248.23 954.67,248.13 960,248 C965.33,247.87 967.83,248.25 972,247.5 C976.17,246.75 980.98,244.97 985,243.5 C989.02,242.03 992.27,240.45 996.1,238.7 C999.93,236.95 1004,234.87 1008,233 C1012,231.13 1015.43,229.17 1020.1,227.5 C1024.77,225.83 1030.65,224.35 1036,223 C1041.35,221.65 1044.15,221.07 1052.2,219.4 C1060.25,217.73 1076.33,214.9 1084.3,213 C1092.27,211.1 1094.67,209.87 1100,208 C1105.33,206.13 1109.57,205.77 1116.3,201.8 C1123.03,197.83 1134.78,189.17 1140.4,184.2 C1146.02,179.23 1147.33,176.02 1150,172 C1152.67,167.98 1154.9,163.43 1156.4,160.1 C1157.9,156.77 1158.23,155.18 1159,152 C1159.77,148.82 1160.67,142.83 1161,141" stroke="#00AAEC"/>
<path d="M877,248.46 C882.5,248.44 901.17,248.4 910,248.33 C918.83,248.26 923.4,248.23 930,248.02 C936.6,247.81 943.89,247.58 949.6,247.07 C955.31,246.56 959.86,246.1 964.28,244.96 C968.7,243.82 972.35,242.83 976.12,240.24 C979.89,237.65 983.6,234.37 986.88,229.44 C990.16,224.51 993.13,217.14 995.8,210.64 C998.47,204.14 1000.37,196.81 1002.88,190.44 C1005.39,184.07 1007.91,177.14 1010.88,172.4 C1013.85,167.66 1016.81,164.7 1020.72,162 C1024.63,159.3 1030.65,157.25 1034.32,156.19 C1037.99,155.13 1038.55,155.52 1042.72,155.64 C1046.89,155.76 1052.53,156.37 1059.36,156.92 C1066.19,157.47 1075.57,158.81 1083.68,158.96 C1091.79,159.12 1100.11,159.05 1108,157.84 C1115.89,156.64 1124.33,154.4 1131,151.74 C1137.67,149.07 1143,145.6 1148,141.88 C1153,138.15 1158.83,131.46 1161,129.38" stroke="#2888D4"/>
<path d="M877,248.46 C882.5,248.44 899.5,248.39 910,248.35 C920.5,248.31 931.72,248.32 940,248.24 C948.28,248.15 954.44,248.03 959.68,247.84 C964.92,247.65 967.39,247.92 971.43,247.11 C975.48,246.3 980.08,244.51 983.96,242.98 C987.84,241.45 991.01,239.76 994.71,237.91 C998.41,236.06 1002.3,233.87 1006.16,231.88 C1010.02,229.89 1013.4,227.79 1017.89,225.98 C1022.39,224.17 1027.98,222.46 1033.12,221 C1038.26,219.54 1041.02,218.88 1048.74,217.22 C1056.45,215.57 1071.51,212.9 1079.42,211.08 C1087.33,209.26 1090.46,208.11 1096.18,206.29 C1101.9,204.46 1106.8,204.01 1113.74,200.14 C1120.68,196.26 1132.07,188.1 1137.83,183.05 C1143.6,177.99 1145.41,174.22 1148.32,169.81 C1151.22,165.39 1153.56,160.62 1155.26,156.57 C1156.95,152.52 1157.54,150.03 1158.5,145.5 C1159.46,140.97 1160.58,132.07 1161,129.38" stroke="#2888D4"/>
<path d="M877,248.38 C882.5,248.35 901.17,248.3 910,248.18 C918.83,248.07 923.53,248.03 930,247.67 C936.47,247.31 943.33,246.81 948.8,246.02 C954.27,245.22 958.58,244.43 962.84,242.88 C967.1,241.33 970.73,239.81 974.36,236.72 C977.99,233.63 981.47,229.79 984.64,224.32 C987.81,218.85 990.73,211.09 993.4,203.92 C996.07,196.75 998.1,188.44 1000.64,181.32 C1003.18,174.2 1005.72,166.42 1008.64,161.2 C1011.56,155.98 1014.44,152.77 1018.16,150 C1021.88,147.23 1027.29,145.42 1030.96,144.58 C1034.63,143.73 1035.64,144.22 1040.16,144.92 C1044.68,145.62 1050.93,147.6 1058.08,148.76 C1065.23,149.92 1074.72,151.75 1083.04,151.89 C1091.36,152.04 1100.01,151.46 1108,149.64 C1115.99,147.82 1124.33,144.49 1131,140.97 C1137.67,137.46 1143,133.11 1148,128.55 C1153,123.99 1158.83,116.1 1161,113.61" stroke="#4A70C0"/>
<path d="M877,248.38 C882.5,248.36 899.5,248.3 910,248.26 C920.5,248.21 931.83,248.23 940,248.11 C948.17,247.99 953.99,247.82 959.04,247.52 C964.09,247.22 966.49,247.25 970.3,246.32 C974.1,245.39 978.28,243.61 981.88,241.94 C985.48,240.27 988.49,238.37 991.92,236.32 C995.36,234.27 998.89,231.87 1002.48,229.64 C1006.07,227.41 1009.33,225.05 1013.48,222.94 C1017.62,220.83 1022.64,218.68 1027.36,217 C1032.08,215.32 1034.76,214.5 1041.81,212.87 C1048.86,211.25 1061.87,208.91 1069.66,207.24 C1077.45,205.57 1082.03,204.6 1088.53,202.86 C1095.02,201.13 1101.26,200.49 1108.62,196.81 C1115.98,193.12 1126.57,185.89 1132.7,180.74 C1138.82,175.6 1141.9,170.9 1145.35,165.94 C1148.81,160.97 1151.37,155.94 1153.44,150.95 C1155.51,145.96 1156.51,142.23 1157.77,136.01 C1159.03,129.79 1160.46,117.34 1161,113.61" stroke="#4A70C0"/>
<path d="M877,248.34 C882.5,248.3 901.17,248.25 910,248.1 C918.83,247.96 923.61,247.92 930,247.47 C936.39,247.03 943.01,246.38 948.35,245.42 C953.69,244.46 957.86,243.49 962.03,241.71 C966.2,239.93 969.81,238.12 973.37,234.74 C976.93,231.36 980.27,227.21 983.38,221.44 C986.49,215.67 989.38,207.68 992.05,200.14 C994.72,192.6 996.83,183.73 999.38,176.19 C1001.93,168.65 1004.49,160.39 1007.38,154.9 C1010.27,149.41 1013.11,146.06 1016.72,143.25 C1020.34,140.44 1025.4,138.77 1029.07,138.04 C1032.74,137.32 1034.01,137.87 1038.72,138.89 C1043.43,139.91 1050.03,142.67 1057.36,144.17 C1064.69,145.67 1074.24,147.88 1082.68,147.91 C1091.12,147.95 1099.95,146.81 1108,144.37 C1116.05,141.93 1124.33,137.66 1131,133.28 C1137.67,128.91 1143,123.64 1148,118.15 C1153,112.66 1158.83,103.3 1161,100.33" stroke="#943A98"/>
<path d="M877,248.34 C882.5,248.31 899.5,248.25 910,248.2 C920.5,248.15 931.89,248.18 940,248.04 C948.11,247.89 953.74,247.7 958.68,247.34 C963.62,246.98 965.99,246.88 969.66,245.88 C973.33,244.89 977.26,243.1 980.71,241.35 C984.16,239.61 987.07,237.6 990.36,235.43 C993.64,233.27 996.97,230.75 1000.41,228.38 C1003.85,226.01 1007.04,223.5 1010.99,221.23 C1014.94,218.96 1019.63,216.55 1024.12,214.75 C1028.61,212.95 1031.24,212.04 1037.91,210.42 C1044.59,208.81 1056.45,206.66 1064.17,205.08 C1071.89,203.5 1077.3,202.63 1084.23,200.94 C1091.15,199.25 1098.14,198.52 1105.74,194.94 C1113.34,191.35 1123.52,184.7 1129.81,179.45 C1136.09,174.2 1139.73,168.87 1143.45,163.45 C1147.17,158.03 1149.84,152.75 1152.14,146.94 C1154.43,141.13 1155.72,136.37 1157.2,128.6 C1158.68,120.83 1160.37,105.04 1161,100.33" stroke="#943A98"/>
<path d="M877,248.19 C882.5,248.13 901.17,248.07 910,247.84 C918.83,247.62 923.85,247.56 930,246.84 C936.15,246.11 942,244.99 946.9,243.51 C951.8,242.03 955.54,240.46 959.42,237.94 C963.3,235.42 966.86,232.66 970.18,228.36 C973.5,224.06 976.4,218.89 979.32,212.16 C982.24,205.43 985.03,196.71 987.7,187.96 C990.37,179.21 992.72,168.55 995.32,159.66 C997.92,150.77 1000.53,140.96 1003.32,134.6 C1006.11,128.24 1008.8,124.44 1012.08,121.5 C1015.36,118.56 1019.31,117.33 1022.98,116.99 C1026.65,116.65 1028.74,117.39 1034.08,119.46 C1039.42,121.53 1047.13,126.77 1055.04,129.38 C1062.95,131.99 1072.69,134.9 1081.52,135.1 C1090.35,135.29 1099.75,133.65 1108,130.53 C1116.25,127.41 1124.33,121.69 1131,116.37 C1137.67,111.06 1143,104.89 1148,98.62 C1153,92.35 1158.83,82.06 1161,78.75" stroke="#D41378"/>
<path d="M877,248.19 C882.5,248.16 899.5,248.09 910,248.03 C920.5,247.96 932.08,248.02 940,247.8 C947.92,247.59 952.92,247.32 957.52,246.76 C962.12,246.2 964.36,245.68 967.6,244.46 C970.83,243.25 973.99,241.45 976.94,239.47 C979.89,237.49 982.51,235.09 985.31,232.56 C988.11,230.04 990.79,227.13 993.74,224.32 C996.69,221.51 999.66,218.52 1002.99,215.72 C1006.31,212.92 1009.95,209.7 1013.68,207.5 C1017.41,205.3 1019.89,204.1 1025.35,202.54 C1030.82,200.97 1038.98,199.42 1046.48,198.12 C1053.98,196.82 1062.03,196.27 1070.36,194.73 C1078.69,193.2 1088.1,192.15 1096.46,188.9 C1104.82,185.66 1113.5,180.6 1120.5,175.27 C1127.5,169.94 1133.65,163.12 1138.45,156.93 C1143.25,150.73 1146.33,145.15 1149.28,138.11 C1152.22,131.07 1154.18,124.58 1156.13,114.69 C1158.08,104.8 1160.19,84.74 1161,78.75" stroke="#D41378"/>
<path d="M877,248 C882.5,247.92 901.17,247.83 910,247.5 C918.83,247.17 924.17,247.08 930,246 C935.83,244.92 940.67,243.17 945,241 C949.33,238.83 952.5,236.5 956,233 C959.5,229.5 963,225.5 966,220 C969,214.5 971.33,208 974,200 C976.67,192 979.33,182.33 982,172 C984.67,161.67 987.33,148.67 990,138 C992.67,127.33 995.33,115.5 998,108 C1000.67,100.5 1003.17,96.1 1006,93 C1008.83,89.9 1011.33,89.23 1015,89.4 C1018.67,89.57 1021.83,90.57 1028,94 C1034.17,97.43 1043.33,105.95 1052,110 C1060.67,114.05 1070.67,117.72 1080,118.3 C1089.33,118.88 1099.5,117.05 1108,113.5 C1116.5,109.95 1124.33,102.92 1131,97 C1137.67,91.08 1143,84.5 1148,78 C1153,71.5 1158.83,61.33 1161,58" stroke="#EA1420"/>
<path d="M877,248 C882.5,247.97 899.5,247.88 910,247.8 C920.5,247.72 932.33,247.8 940,247.5 C947.67,247.2 951.85,246.82 956,246 C960.15,245.18 962.23,244.1 964.9,242.6 C967.57,241.1 969.7,239.3 972,237 C974.3,234.7 976.53,231.8 978.7,228.8 C980.87,225.8 982.7,222.38 985,219 C987.3,215.62 990,212 992.5,208.5 C995,205 997.27,200.72 1000,198 C1002.73,195.28 1005.02,193.7 1008.9,192.2 C1012.78,190.7 1016.08,189.93 1023.3,189 C1030.52,188.07 1042.03,187.93 1052.2,186.6 C1062.37,185.27 1074.95,183.8 1084.3,181 C1093.65,178.2 1100.3,175.15 1108.3,169.8 C1116.3,164.45 1126.02,155.87 1132.3,148.9 C1138.58,141.93 1142.22,136.15 1146,128 C1149.78,119.85 1152.5,111.67 1155,100 C1157.5,88.33 1160,65 1161,58" stroke="#EA1420"/>
</g>
<rect x="876.6" y="45.4" width="284.5" height="220.7" fill="none" stroke="#000" stroke-width="2.8"/>
<line x1="871.1" y1="248.2" x2="876.6" y2="248.2" stroke="#000" stroke-width="2.8" stroke-linecap="butt"/>
<text x="868.5" y="256.4" font-size="26.5" text-anchor="end" font-weight="normal" fill="#000" font-family='"Liberation Sans", Arial, Helvetica, sans-serif'>0.0</text>
<line x1="871.1" y1="174.3" x2="876.6" y2="174.3" stroke="#000" stroke-width="2.8" stroke-linecap="butt"/>
<text x="868.5" y="182.5" font-size="26.5" text-anchor="end" font-weight="normal" fill="#000" font-family='"Liberation Sans", Arial, Helvetica, sans-serif'>0.2</text>
<line x1="871.1" y1="100.4" x2="876.6" y2="100.4" stroke="#000" stroke-width="2.8" stroke-linecap="butt"/>
<text x="868.5" y="108.6" font-size="26.5" text-anchor="end" font-weight="normal" fill="#000" font-family='"Liberation Sans", Arial, Helvetica, sans-serif'>0.4</text>
<line x1="872.6" y1="211.25" x2="876.6" y2="211.25" stroke="#000" stroke-width="2.8" stroke-linecap="butt"/>
<line x1="872.6" y1="137.35" x2="876.6" y2="137.35" stroke="#000" stroke-width="2.8" stroke-linecap="butt"/>
<line x1="872.6" y1="63.45" x2="876.6" y2="63.45" stroke="#000" stroke-width="2.8" stroke-linecap="butt"/>
<line x1="876.6" y1="266.1" x2="876.6" y2="271.1" stroke="#000" stroke-width="2.8" stroke-linecap="butt"/>
<text x="876.6" y="294.6" font-size="26.5" text-anchor="middle" font-weight="normal" fill="#000" font-family='"Liberation Sans", Arial, Helvetica, sans-serif'>0.4</text>
<line x1="971.43" y1="266.1" x2="971.43" y2="271.1" stroke="#000" stroke-width="2.8" stroke-linecap="butt"/>
<text x="971.43" y="294.6" font-size="26.5" text-anchor="middle" font-weight="normal" fill="#000" font-family='"Liberation Sans", Arial, Helvetica, sans-serif'>0.8</text>
<line x1="1066.27" y1="266.1" x2="1066.27" y2="271.1" stroke="#000" stroke-width="2.8" stroke-linecap="butt"/>
<text x="1066.27" y="294.6" font-size="26.5" text-anchor="middle" font-weight="normal" fill="#000" font-family='"Liberation Sans", Arial, Helvetica, sans-serif'>1.2</text>
<line x1="1161.1" y1="266.1" x2="1161.1" y2="271.1" stroke="#000" stroke-width="2.8" stroke-linecap="butt"/>
<text x="1161.1" y="294.6" font-size="26.5" text-anchor="middle" font-weight="normal" fill="#000" font-family='"Liberation Sans", Arial, Helvetica, sans-serif'>1.6</text>
<line x1="924.02" y1="266.1" x2="924.02" y2="269.6" stroke="#000" stroke-width="2.8" stroke-linecap="butt"/>
<line x1="1018.85" y1="266.1" x2="1018.85" y2="269.6" stroke="#000" stroke-width="2.8" stroke-linecap="butt"/>
<line x1="1113.68" y1="266.1" x2="1113.68" y2="269.6" stroke="#000" stroke-width="2.8" stroke-linecap="butt"/>
<text x="1018.8" y="329.2" font-size="26.5" text-anchor="middle" font-weight="normal" fill="#000" font-family='"Liberation Sans", Arial, Helvetica, sans-serif'>Potential (V)</text>
<text x="0" y="0" font-size="26.5" text-anchor="middle" font-weight="normal" fill="#000" font-family='"Liberation Sans", Arial, Helvetica, sans-serif' transform="translate(821.4,171.8) rotate(-90)">Current (mA)</text>
<text x="1369.5" y="33.5" font-size="29" text-anchor="start" font-weight="bold" fill="#000" font-family='"Liberation Sans", Arial, Helvetica, sans-serif'>c</text>
<g stroke="#ececec" stroke-width="1.1" fill="none">
<line x1="1456.35" y1="91.29" x2="1477.34" y2="364.07" stroke="#ececec" stroke-width="1.1" stroke-linecap="butt"/>
<line x1="1496.3" y1="77.03" x2="1513.28" y2="346.2" stroke="#ececec" stroke-width="1.1" stroke-linecap="butt"/>
<line x1="1534.5" y1="63.38" x2="1547.65" y2="329.11" stroke="#ececec" stroke-width="1.1" stroke-linecap="butt"/>
<line x1="1570.73" y1="50.45" x2="1580.24" y2="312.9" stroke="#ececec" stroke-width="1.1" stroke-linecap="butt"/>
<line x1="1604.22" y1="38.48" x2="1610.37" y2="297.92" stroke="#ececec" stroke-width="1.1" stroke-linecap="butt"/>
<line x1="1636.72" y1="26.88" x2="1639.61" y2="283.38" stroke="#ececec" stroke-width="1.1" stroke-linecap="butt"/>
<line x1="1420.61" y1="140.84" x2="1665.5" y2="49.35" stroke="#ececec" stroke-width="1.1" stroke-linecap="butt"/>
<line x1="1426.51" y1="206.33" x2="1665.5" y2="109.53" stroke="#ececec" stroke-width="1.1" stroke-linecap="butt"/>
<line x1="1432.02" y1="267.39" x2="1665.5" y2="165.64" stroke="#ececec" stroke-width="1.1" stroke-linecap="butt"/>
<line x1="1437.52" y1="328.45" x2="1665.5" y2="221.75" stroke="#ececec" stroke-width="1.1" stroke-linecap="butt"/>
<line x1="1692.27" y1="26.8" x2="1689.34" y2="283.49" stroke="#ececec" stroke-width="1.1" stroke-linecap="butt"/>
<line x1="1748.96" y1="48.4" x2="1739.82" y2="310.98" stroke="#ececec" stroke-width="1.1" stroke-linecap="butt"/>
<line x1="1807.81" y1="70.82" x2="1792.23" y2="339.53" stroke="#ececec" stroke-width="1.1" stroke-linecap="butt"/>
<line x1="1872.69" y1="95.54" x2="1850.01" y2="371" stroke="#ececec" stroke-width="1.1" stroke-linecap="butt"/>
<line x1="1665.5" y1="49.35" x2="1903.29" y2="144.49" stroke="#ececec" stroke-width="1.1" stroke-linecap="butt"/>
<line x1="1665.5" y1="109.53" x2="1897.04" y2="210.61" stroke="#ececec" stroke-width="1.1" stroke-linecap="butt"/>
<line x1="1665.5" y1="165.64" x2="1891.2" y2="272.27" stroke="#ececec" stroke-width="1.1" stroke-linecap="butt"/>
<line x1="1665.5" y1="221.75" x2="1885.37" y2="333.93" stroke="#ececec" stroke-width="1.1" stroke-linecap="butt"/>
<line x1="1465.85" y1="398.48" x2="1689.34" y2="283.49" stroke="#f0f0f0" stroke-width="1" stroke-linecap="butt"/>
<line x1="1515.72" y1="434.44" x2="1739.82" y2="310.98" stroke="#f0f0f0" stroke-width="1" stroke-linecap="butt"/>
<line x1="1567.5" y1="471.77" x2="1792.23" y2="339.53" stroke="#f0f0f0" stroke-width="1" stroke-linecap="butt"/>
<line x1="1624.58" y1="512.93" x2="1850.01" y2="371" stroke="#f0f0f0" stroke-width="1" stroke-linecap="butt"/>
<line x1="1477.34" y1="364.07" x2="1689.95" y2="511.42" stroke="#f0f0f0" stroke-width="1" stroke-linecap="butt"/>
<line x1="1513.28" y1="346.2" x2="1726.3" y2="487.75" stroke="#f0f0f0" stroke-width="1" stroke-linecap="butt"/>
<line x1="1547.65" y1="329.11" x2="1761.08" y2="465.12" stroke="#f0f0f0" stroke-width="1" stroke-linecap="butt"/>
<line x1="1580.24" y1="312.9" x2="1794.04" y2="443.65" stroke="#f0f0f0" stroke-width="1" stroke-linecap="butt"/>
<line x1="1610.37" y1="297.92" x2="1824.53" y2="423.81" stroke="#f0f0f0" stroke-width="1" stroke-linecap="butt"/>
<line x1="1639.61" y1="283.38" x2="1854.11" y2="404.55" stroke="#f0f0f0" stroke-width="1" stroke-linecap="butt"/>
</g>
<line x1="1417.4" y1="105.2" x2="1665.5" y2="16.6" stroke="#8a8a8a" stroke-width="1.4" stroke-linecap="butt"/>
<line x1="1665.5" y1="16.6" x2="1906.7" y2="108.5" stroke="#8a8a8a" stroke-width="1.4" stroke-linecap="butt"/>
<line x1="1417.4" y1="105.2" x2="1442.3" y2="381.5" stroke="#8a8a8a" stroke-width="1.4" stroke-linecap="butt"/>
<line x1="1665.5" y1="16.6" x2="1665.5" y2="270.5" stroke="#acacac" stroke-width="1.4" stroke-linecap="butt"/>
<line x1="1442.3" y1="381.5" x2="1665.5" y2="270.5" stroke="#acacac" stroke-width="1.4" stroke-linecap="butt"/>
<line x1="1665.5" y1="270.5" x2="1880.3" y2="387.5" stroke="#acacac" stroke-width="1.4" stroke-linecap="butt"/>
<g fill="#9a9a9a" fill-opacity="0.2" stroke="none">
<path d="M1561.3,336.8 C1563.7,338.47 1569.58,344.2 1575.7,346.8 C1581.82,349.4 1590.95,351.3 1598,352.4 C1605.05,353.5 1612.43,350.8 1618,353.4 C1623.57,356 1627.32,362.23 1631.4,368 C1635.48,373.77 1638.05,382.43 1642.5,388 C1646.95,393.57 1649.93,395.83 1658.1,401.4 C1666.27,406.97 1679.63,414.35 1691.5,421.4 C1703.37,428.45 1723,439.98 1729.3,443.7 L1561.3,336.8 Z"/>
<path d="M1594.6,322.4 C1597.77,323.13 1607.47,327.73 1613.6,326.8 C1619.73,325.87 1626.67,320.43 1631.4,316.8 C1636.13,313.17 1638.9,307.63 1642,305 C1645.1,302.37 1647.32,300.35 1650,301 C1652.68,301.65 1655.63,304.42 1658.1,308.9 C1660.57,313.38 1662.2,318.42 1664.8,327.9 C1667.4,337.38 1670.37,357.27 1673.7,365.8 C1677.03,374.33 1678.13,373.92 1684.8,379.1 C1691.47,384.28 1701.08,389.85 1713.7,396.9 C1726.32,403.95 1752.7,417.32 1760.5,421.4 L1594.6,322.4 Z"/>
<path d="M1623,305 C1624,305 1626.83,307.17 1629,305 C1631.17,302.83 1633.17,298.17 1636,292 C1638.83,285.83 1642.5,277 1646,268 C1649.5,259 1653.5,251.33 1657,238 C1660.5,224.67 1663.83,205.5 1667,188 C1670.17,170.5 1672.95,146.17 1676,133 C1679.05,119.83 1682.47,110.83 1685.3,109 C1688.13,107.17 1690.72,110.17 1693,122 C1695.28,133.83 1697.17,157 1699,180 C1700.83,203 1702.5,235 1704,260 C1705.5,285 1706.25,313.85 1708,330 C1709.75,346.15 1710.83,350.23 1714.5,356.9 C1718.17,363.57 1724.57,366.22 1730,370 C1735.43,373.78 1736.82,374 1747.1,379.6 C1757.38,385.2 1784.27,399.6 1791.7,403.6 L1623,305 Z"/>
<path d="M1653.6,291.2 C1656.2,291.38 1664,293.6 1669.2,292.3 C1674.4,291 1679.97,288.22 1684.8,283.4 C1689.63,278.58 1694.33,271.3 1698.2,263.4 C1702.07,255.5 1704.93,242.08 1708,236 C1711.07,229.92 1713.78,225.4 1716.6,226.9 C1719.42,228.4 1722.5,234.48 1724.9,245 C1727.3,255.52 1729.15,277.7 1731,290 C1732.85,302.3 1733.88,310.63 1736,318.8 C1738.12,326.97 1739.98,334.13 1743.7,339 C1747.42,343.87 1750.3,343.53 1758.3,348 C1766.3,352.47 1780.95,359.87 1791.7,365.8 C1802.45,371.73 1817.62,380.63 1822.8,383.6 L1653.6,291.2 Z"/>
</g>
<g fill="none" stroke-width="5.4" stroke-linejoin="round" stroke-linecap="round">
<path d="M1491.1,373.6 C1494.82,375.63 1505.6,381.53 1513.4,385.8 C1521.2,390.07 1531.6,395.75 1537.9,399.2 C1544.2,402.65 1546.75,402.43 1551.2,406.5 C1555.65,410.57 1559.77,418.15 1564.6,423.6 C1569.43,429.05 1572.03,433.25 1580.2,439.2 C1588.37,445.15 1600.62,451.32 1613.6,459.3 C1626.58,467.28 1650.68,482.47 1658.1,487.1" stroke="#12ACE6"/>
<path d="M1526.7,355.7 C1530.05,357.75 1539.75,364.83 1546.8,368 C1553.85,371.17 1562.7,372.32 1569,374.7 C1575.3,377.08 1578.65,377.48 1584.6,382.3 C1590.55,387.12 1598.02,397.45 1604.7,403.6 C1611.38,409.75 1615.8,413.27 1624.7,419.2 C1633.6,425.13 1646.6,431.78 1658.1,439.2 C1669.6,446.62 1687.77,459.62 1693.7,463.7" stroke="#2F8AD6"/>
<path d="M1561.3,336.8 C1563.7,338.47 1569.58,344.2 1575.7,346.8 C1581.82,349.4 1590.95,351.3 1598,352.4 C1605.05,353.5 1612.43,350.8 1618,353.4 C1623.57,356 1627.32,362.23 1631.4,368 C1635.48,373.77 1638.05,382.43 1642.5,388 C1646.95,393.57 1649.93,395.83 1658.1,401.4 C1666.27,406.97 1679.63,414.35 1691.5,421.4 C1703.37,428.45 1723,439.98 1729.3,443.7" stroke="#4C6CC2"/>
<path d="M1594.6,322.4 C1597.77,323.13 1607.47,327.73 1613.6,326.8 C1619.73,325.87 1626.67,320.43 1631.4,316.8 C1636.13,313.17 1638.9,307.63 1642,305 C1645.1,302.37 1647.32,300.35 1650,301 C1652.68,301.65 1655.63,304.42 1658.1,308.9 C1660.57,313.38 1662.2,318.42 1664.8,327.9 C1667.4,337.38 1670.37,357.27 1673.7,365.8 C1677.03,374.33 1678.13,373.92 1684.8,379.1 C1691.47,384.28 1701.08,389.85 1713.7,396.9 C1726.32,403.95 1752.7,417.32 1760.5,421.4" stroke="#9641A0"/>
<path d="M1623,305 C1624,305 1626.83,307.17 1629,305 C1631.17,302.83 1633.17,298.17 1636,292 C1638.83,285.83 1642.5,277 1646,268 C1649.5,259 1653.5,251.33 1657,238 C1660.5,224.67 1663.83,205.5 1667,188 C1670.17,170.5 1672.95,146.17 1676,133 C1679.05,119.83 1682.47,110.83 1685.3,109 C1688.13,107.17 1690.72,110.17 1693,122 C1695.28,133.83 1697.17,157 1699,180 C1700.83,203 1702.5,235 1704,260 C1705.5,285 1706.25,313.85 1708,330 C1709.75,346.15 1710.83,350.23 1714.5,356.9 C1718.17,363.57 1724.57,366.22 1730,370 C1735.43,373.78 1736.82,374 1747.1,379.6 C1757.38,385.2 1784.27,399.6 1791.7,403.6" stroke="#D4197F"/>
<path d="M1653.6,291.2 C1656.2,291.38 1664,293.6 1669.2,292.3 C1674.4,291 1679.97,288.22 1684.8,283.4 C1689.63,278.58 1694.33,271.3 1698.2,263.4 C1702.07,255.5 1704.93,242.08 1708,236 C1711.07,229.92 1715.17,228.42 1716.6,226.9" stroke="#EC1C24" stroke-width="3.2" stroke-opacity="0.85"/>
<path d="M1708,236 C1709.43,234.48 1713.78,225.4 1716.6,226.9 C1719.42,228.4 1722.5,234.48 1724.9,245 C1727.3,255.52 1729.15,277.7 1731,290 C1732.85,302.3 1733.88,310.63 1736,318.8 C1738.12,326.97 1739.98,334.13 1743.7,339 C1747.42,343.87 1750.3,343.53 1758.3,348 C1766.3,352.47 1780.95,359.87 1791.7,365.8 C1802.45,371.73 1817.62,380.63 1822.8,383.6" stroke="#EC1C24"/>
</g>
<line x1="1442.3" y1="381.5" x2="1654.5" y2="534.5" stroke="#000" stroke-width="3.2" stroke-linecap="round"/>
<line x1="1654.5" y1="534.5" x2="1880.3" y2="387.5" stroke="#000" stroke-width="3.2" stroke-linecap="round"/>
<line x1="1906.7" y1="108.5" x2="1880.3" y2="387.5" stroke="#000" stroke-width="3" stroke-linecap="round"/>
<line x1="1465.9" y1="401.9" x2="1459.2" y2="406.26" stroke="#000" stroke-width="2.6" stroke-linecap="butt"/>
<line x1="1515.8" y1="436.6" x2="1509.1" y2="440.96" stroke="#000" stroke-width="2.6" stroke-linecap="butt"/>
<line x1="1567.5" y1="474" x2="1560.8" y2="478.36" stroke="#000" stroke-width="2.6" stroke-linecap="butt"/>
<line x1="1624.5" y1="513.2" x2="1617.8" y2="517.56" stroke="#000" stroke-width="2.6" stroke-linecap="butt"/>
<line x1="1490.85" y1="419.25" x2="1486.66" y2="421.98" stroke="#000" stroke-width="2.4" stroke-linecap="butt"/>
<line x1="1541.65" y1="455.3" x2="1537.46" y2="458.03" stroke="#000" stroke-width="2.4" stroke-linecap="butt"/>
<line x1="1596" y1="493.6" x2="1591.81" y2="496.33" stroke="#000" stroke-width="2.4" stroke-linecap="butt"/>
<line x1="1689.9" y1="512.1" x2="1695.58" y2="516.2" stroke="#000" stroke-width="2.6" stroke-linecap="butt"/>
<line x1="1726.3" y1="489.3" x2="1731.98" y2="493.4" stroke="#000" stroke-width="2.6" stroke-linecap="butt"/>
<line x1="1761" y1="466.4" x2="1766.68" y2="470.5" stroke="#000" stroke-width="2.6" stroke-linecap="butt"/>
<line x1="1794" y1="445.3" x2="1799.68" y2="449.4" stroke="#000" stroke-width="2.6" stroke-linecap="butt"/>
<line x1="1824.4" y1="424.1" x2="1830.08" y2="428.2" stroke="#000" stroke-width="2.6" stroke-linecap="butt"/>
<line x1="1854" y1="404.7" x2="1859.68" y2="408.8" stroke="#000" stroke-width="2.6" stroke-linecap="butt"/>
<line x1="1906.7" y1="144.4" x2="1913.7" y2="146.4" stroke="#000" stroke-width="2.6" stroke-linecap="butt"/>
<line x1="1900.8" y1="210.5" x2="1907.8" y2="212.5" stroke="#000" stroke-width="2.6" stroke-linecap="butt"/>
<line x1="1894.9" y1="272.2" x2="1901.9" y2="274.2" stroke="#000" stroke-width="2.6" stroke-linecap="butt"/>
<line x1="1890.5" y1="333.9" x2="1897.5" y2="335.9" stroke="#000" stroke-width="2.6" stroke-linecap="butt"/>
<line x1="1880.2" y1="386.8" x2="1887.2" y2="388.8" stroke="#000" stroke-width="2.6" stroke-linecap="butt"/>
<line x1="1903.75" y1="177.45" x2="1907.75" y2="178.45" stroke="#000" stroke-width="2.2" stroke-linecap="butt"/>
<line x1="1897.85" y1="241.35" x2="1901.85" y2="242.35" stroke="#000" stroke-width="2.2" stroke-linecap="butt"/>
<line x1="1892.7" y1="303.05" x2="1896.7" y2="304.05" stroke="#000" stroke-width="2.2" stroke-linecap="butt"/>
<line x1="1885.35" y1="360.35" x2="1889.35" y2="361.35" stroke="#000" stroke-width="2.2" stroke-linecap="butt"/>
<text x="0" y="0" font-size="24" text-anchor="start" font-weight="normal" fill="#1a1a1a" font-family='"Liberation Sans", Arial, Helvetica, sans-serif' transform="translate(1911.5,163.5) rotate(20)">680</text>
<text x="0" y="0" font-size="24" text-anchor="start" font-weight="normal" fill="#1a1a1a" font-family='"Liberation Sans", Arial, Helvetica, sans-serif' transform="translate(1905.5,229.5) rotate(20)">660</text>
<text x="0" y="0" font-size="24" text-anchor="start" font-weight="normal" fill="#1a1a1a" font-family='"Liberation Sans", Arial, Helvetica, sans-serif' transform="translate(1899.5,291) rotate(20)">640</text>
<text x="0" y="0" font-size="24" text-anchor="start" font-weight="normal" fill="#1a1a1a" font-family='"Liberation Sans", Arial, Helvetica, sans-serif' transform="translate(1895,352.5) rotate(20)">620</text>
<text x="0" y="0" font-size="24" text-anchor="start" font-weight="normal" fill="#1a1a1a" font-family='"Liberation Sans", Arial, Helvetica, sans-serif' transform="translate(1889,405) rotate(20)">600</text>
<text x="0" y="0" font-size="25" text-anchor="start" font-weight="normal" fill="#1a1a1a" font-family='"Liberation Sans", Arial, Helvetica, sans-serif' font-style="italic" transform="translate(1956,393) rotate(-83)">ECL intensity (a.u.)</text>
<text x="0" y="0" font-size="26" text-anchor="middle" font-weight="normal" fill="#1a1a1a" font-family='"Liberation Sans", Arial, Helvetica, sans-serif' transform="matrix(0.838,-0.545,0.811,0.585,1446.8,422.5)">800</text>
<text x="0" y="0" font-size="26" text-anchor="middle" font-weight="normal" fill="#1a1a1a" font-family='"Liberation Sans", Arial, Helvetica, sans-serif' transform="matrix(0.838,-0.545,0.811,0.585,1495,457.3)">600</text>
<text x="0" y="0" font-size="26" text-anchor="middle" font-weight="normal" fill="#1a1a1a" font-family='"Liberation Sans", Arial, Helvetica, sans-serif' transform="matrix(0.838,-0.545,0.811,0.585,1549.1,493.7)">400</text>
<text x="0" y="0" font-size="26" text-anchor="middle" font-weight="normal" fill="#1a1a1a" font-family='"Liberation Sans", Arial, Helvetica, sans-serif' transform="matrix(0.838,-0.545,0.811,0.585,1603.6,537.5)">200</text>
<text x="0" y="0" font-size="24" text-anchor="middle" font-weight="normal" fill="#1a1a1a" font-family='"Liberation Sans", Arial, Helvetica, sans-serif' transform="matrix(0.811,0.585,-0.838,0.545,1476.5,499.2)">Wavelength (nm)</text>
<text x="0" y="0" font-size="24" text-anchor="middle" font-weight="normal" fill="#1a1a1a" font-family='"Liberation Sans", Arial, Helvetica, sans-serif' transform="matrix(0.811,0.585,-0.838,0.545,1708,535.4)">6.0</text>
<text x="0" y="0" font-size="24" text-anchor="middle" font-weight="normal" fill="#1a1a1a" font-family='"Liberation Sans", Arial, Helvetica, sans-serif' transform="matrix(0.811,0.585,-0.838,0.545,1744.5,511)">6.4</text>
<text x="0" y="0" font-size="24" text-anchor="middle" font-weight="normal" fill="#1a1a1a" font-family='"Liberation Sans", Arial, Helvetica, sans-serif' transform="matrix(0.811,0.585,-0.838,0.545,1777.4,488)">6.8</text>
<text x="0" y="0" font-size="24" text-anchor="middle" font-weight="normal" fill="#1a1a1a" font-family='"Liberation Sans", Arial, Helvetica, sans-serif' transform="matrix(0.811,0.585,-0.838,0.545,1809.6,466.1)">7.2</text>
<text x="0" y="0" font-size="24" text-anchor="middle" font-weight="normal" fill="#1a1a1a" font-family='"Liberation Sans", Arial, Helvetica, sans-serif' transform="matrix(0.811,0.585,-0.838,0.545,1840.5,444.9)">7.6</text>
<text x="0" y="0" font-size="24" text-anchor="middle" font-weight="normal" fill="#1a1a1a" font-family='"Liberation Sans", Arial, Helvetica, sans-serif' transform="matrix(0.811,0.585,-0.838,0.545,1870.5,423.7)">8.0</text>
<text x="0" y="0" font-size="24" text-anchor="middle" font-weight="normal" fill="#1a1a1a" font-family='"Liberation Sans", Arial, Helvetica, sans-serif' transform="matrix(0.838,-0.545,0.811,0.585,1839,496.5)">pH</text>
<text x="2.5" y="598.5" font-size="29" text-anchor="start" font-weight="bold" fill="#000" font-family='"Liberation Sans", Arial, Helvetica, sans-serif'>d</text>
<rect x="100" y="592.6" width="540.6" height="443.2" fill="none" stroke="#000" stroke-width="3"/>
<line x1="91.5" y1="1035.8" x2="100" y2="1035.8" stroke="#000" stroke-width="3" stroke-linecap="butt"/>
<text x="87" y="1043.8" font-size="28" text-anchor="end" font-weight="normal" fill="#000" font-family='"Liberation Sans", Arial, Helvetica, sans-serif'>0.0</text>
<line x1="91.5" y1="925" x2="100" y2="925" stroke="#000" stroke-width="3" stroke-linecap="butt"/>
<text x="87" y="933" font-size="28" text-anchor="end" font-weight="normal" fill="#000" font-family='"Liberation Sans", Arial, Helvetica, sans-serif'>3.0</text>
<line x1="91.5" y1="814.2" x2="100" y2="814.2" stroke="#000" stroke-width="3" stroke-linecap="butt"/>
<text x="87" y="822.2" font-size="28" text-anchor="end" font-weight="normal" fill="#000" font-family='"Liberation Sans", Arial, Helvetica, sans-serif'>6.0</text>
<line x1="91.5" y1="703.4" x2="100" y2="703.4" stroke="#000" stroke-width="3" stroke-linecap="butt"/>
<text x="87" y="711.4" font-size="28" text-anchor="end" font-weight="normal" fill="#000" font-family='"Liberation Sans", Arial, Helvetica, sans-serif'>9.0</text>
<line x1="91.5" y1="592.6" x2="100" y2="592.6" stroke="#000" stroke-width="3" stroke-linecap="butt"/>
<text x="87" y="600.6" font-size="28" text-anchor="end" font-weight="normal" fill="#000" font-family='"Liberation Sans", Arial, Helvetica, sans-serif'>12.0</text>
<line x1="95" y1="980.4" x2="100" y2="980.4" stroke="#000" stroke-width="3" stroke-linecap="butt"/>
<line x1="95" y1="869.6" x2="100" y2="869.6" stroke="#000" stroke-width="3" stroke-linecap="butt"/>
<line x1="95" y1="758.8" x2="100" y2="758.8" stroke="#000" stroke-width="3" stroke-linecap="butt"/>
<line x1="95" y1="648" x2="100" y2="648" stroke="#000" stroke-width="3" stroke-linecap="butt"/>
<line x1="144.8" y1="1035.8" x2="144.8" y2="1045.3" stroke="#000" stroke-width="3" stroke-linecap="butt"/>
<text x="144.8" y="1072.3" font-size="28" text-anchor="middle" font-weight="normal" fill="#000" font-family='"Liberation Sans", Arial, Helvetica, sans-serif'>6.0</text>
<line x1="235" y1="1035.8" x2="235" y2="1045.3" stroke="#000" stroke-width="3" stroke-linecap="butt"/>
<text x="235" y="1072.3" font-size="28" text-anchor="middle" font-weight="normal" fill="#000" font-family='"Liberation Sans", Arial, Helvetica, sans-serif'>6.4</text>
<line x1="325.2" y1="1035.8" x2="325.2" y2="1045.3" stroke="#000" stroke-width="3" stroke-linecap="butt"/>
<text x="325.2" y="1072.3" font-size="28" text-anchor="middle" font-weight="normal" fill="#000" font-family='"Liberation Sans", Arial, Helvetica, sans-serif'>6.8</text>
<line x1="415.4" y1="1035.8" x2="415.4" y2="1045.3" stroke="#000" stroke-width="3" stroke-linecap="butt"/>
<text x="415.4" y="1072.3" font-size="28" text-anchor="middle" font-weight="normal" fill="#000" font-family='"Liberation Sans", Arial, Helvetica, sans-serif'>7.2</text>
<line x1="505.6" y1="1035.8" x2="505.6" y2="1045.3" stroke="#000" stroke-width="3" stroke-linecap="butt"/>
<text x="505.6" y="1072.3" font-size="28" text-anchor="middle" font-weight="normal" fill="#000" font-family='"Liberation Sans", Arial, Helvetica, sans-serif'>7.6</text>
<line x1="595.8" y1="1035.8" x2="595.8" y2="1045.3" stroke="#000" stroke-width="3" stroke-linecap="butt"/>
<text x="595.8" y="1072.3" font-size="28" text-anchor="middle" font-weight="normal" fill="#000" font-family='"Liberation Sans", Arial, Helvetica, sans-serif'>8.0</text>
<text x="370.3" y="1116.8" font-size="28" text-anchor="middle" font-weight="normal" fill="#000" font-family='"Liberation Sans", Arial, Helvetica, sans-serif'>pH</text>
<g transform="translate(20.6,897) rotate(-90)"><text x="0" y="0" font-family='"Liberation Serif", "Times New Roman", serif' font-size="28" font-style="italic">&#934;</text><text x="20" y="9" font-family='"Liberation Sans", Arial, Helvetica, sans-serif' font-size="16.5">ECL</text><text x="50" y="0" font-family='"Liberation Sans", Arial, Helvetica, sans-serif' font-size="28">/</text><text x="59" y="0" font-family='"Liberation Serif", "Times New Roman", serif' font-size="28" font-style="italic">&#934;</text><text x="78.5" y="9" font-family='"Liberation Sans", Arial, Helvetica, sans-serif' font-size="16.5">ECL,0</text></g>
<line x1="144.8" y1="991" x2="144.8" y2="1007" stroke="#00AAEC" stroke-width="3.1" stroke-linecap="butt"/>
<line x1="136.8" y1="991" x2="152.8" y2="991" stroke="#00AAEC" stroke-width="3.1" stroke-linecap="round"/>
<line x1="136.8" y1="1007" x2="152.8" y2="1007" stroke="#00AAEC" stroke-width="3.1" stroke-linecap="round"/>
<circle cx="144.8" cy="998.8" r="8.7" fill="url(#ball0)"/>
<line x1="235" y1="928.6" x2="235" y2="961.7" stroke="#2888D4" stroke-width="3.1" stroke-linecap="butt"/>
<line x1="227" y1="928.6" x2="243" y2="928.6" stroke="#2888D4" stroke-width="3.1" stroke-linecap="round"/>
<line x1="227" y1="961.7" x2="243" y2="961.7" stroke="#2888D4" stroke-width="3.1" stroke-linecap="round"/>
<circle cx="235" cy="945.2" r="8.7" fill="url(#ball1)"/>
<line x1="325.2" y1="704.4" x2="325.2" y2="726.2" stroke="#4A70C0" stroke-width="3.1" stroke-linecap="butt"/>
<line x1="317.2" y1="704.4" x2="333.2" y2="704.4" stroke="#4A70C0" stroke-width="3.1" stroke-linecap="round"/>
<line x1="317.2" y1="726.2" x2="333.2" y2="726.2" stroke="#4A70C0" stroke-width="3.1" stroke-linecap="round"/>
<circle cx="325.2" cy="715.5" r="8.7" fill="url(#ball2)"/>
<line x1="415.4" y1="685.4" x2="415.4" y2="704.4" stroke="#943A98" stroke-width="3.1" stroke-linecap="butt"/>
<line x1="407.4" y1="685.4" x2="423.4" y2="685.4" stroke="#943A98" stroke-width="3.1" stroke-linecap="round"/>
<line x1="407.4" y1="704.4" x2="423.4" y2="704.4" stroke="#943A98" stroke-width="3.1" stroke-linecap="round"/>
<circle cx="415.4" cy="694.4" r="8.7" fill="url(#ball3)"/>
<line x1="505.6" y1="621.2" x2="505.6" y2="668.7" stroke="#D41378" stroke-width="3.1" stroke-linecap="butt"/>
<line x1="497.6" y1="621.2" x2="513.6" y2="621.2" stroke="#D41378" stroke-width="3.1" stroke-linecap="round"/>
<line x1="497.6" y1="668.7" x2="513.6" y2="668.7" stroke="#D41378" stroke-width="3.1" stroke-linecap="round"/>
<circle cx="505.6" cy="644.9" r="8.7" fill="url(#ball4)"/>
<line x1="595.8" y1="750.6" x2="595.8" y2="769.6" stroke="#EA1420" stroke-width="3.1" stroke-linecap="butt"/>
<line x1="587.8" y1="750.6" x2="603.8" y2="750.6" stroke="#EA1420" stroke-width="3.1" stroke-linecap="round"/>
<line x1="587.8" y1="769.6" x2="603.8" y2="769.6" stroke="#EA1420" stroke-width="3.1" stroke-linecap="round"/>
<circle cx="595.8" cy="759.6" r="8.7" fill="url(#ball5)"/>
<text x="692.5" y="598.5" font-size="29" text-anchor="start" font-weight="bold" fill="#000" font-family='"Liberation Sans", Arial, Helvetica, sans-serif'>e</text>
<g clip-path="url(#clipE0)">
<circle cx="753.2" cy="612.7" r="15" fill="url(#gH)"/>
<circle cx="807.7" cy="626.3" r="15" fill="url(#gH)"/>
<circle cx="847" cy="650.6" r="14" fill="url(#gH)"/>
<circle cx="759.2" cy="690" r="13" fill="url(#gH)"/>
<circle cx="801.6" cy="718.2" r="15" fill="url(#gH)"/>
<circle cx="771.3" cy="697" r="14" fill="url(#gH)"/>
<circle cx="874.3" cy="650.6" r="14" fill="url(#gH)"/>
<circle cx="916.7" cy="630.9" r="15" fill="url(#gH)"/>
<circle cx="953" cy="702" r="15" fill="url(#gH)"/>
<circle cx="915.2" cy="724.3" r="15" fill="url(#gH)"/>
<circle cx="954.6" cy="606.7" r="12" fill="url(#gH)"/>
<circle cx="816.7" cy="746.7" r="14" fill="url(#gH)"/>
<circle cx="895" cy="750.3" r="14" fill="url(#gH)"/>
<circle cx="813.2" cy="787.7" r="14" fill="url(#gH)"/>
<circle cx="891.7" cy="794.8" r="13" fill="url(#gH)"/>
<circle cx="825.6" cy="842.9" r="14" fill="url(#gH)"/>
<circle cx="891.5" cy="850" r="14" fill="url(#gH)"/>
<circle cx="825.6" cy="876" r="14" fill="url(#gH)"/>
<circle cx="889.7" cy="884.8" r="14" fill="url(#gH)"/>
<circle cx="763.8" cy="929" r="12" fill="url(#gH)"/>
<circle cx="777.4" cy="1003.3" r="14" fill="url(#gH)"/>
<circle cx="744" cy="1027.5" r="13" fill="url(#gH)"/>
<circle cx="783" cy="903" r="12" fill="url(#gH)"/>
<circle cx="925.8" cy="915.4" r="15" fill="url(#gH)"/>
<circle cx="937.9" cy="994.2" r="15" fill="url(#gH)"/>
<circle cx="968.2" cy="1018.4" r="14" fill="url(#gH)"/>
<circle cx="971.2" cy="927.5" r="14" fill="url(#gH)"/>
<circle cx="921.3" cy="977" r="12" fill="url(#gH)"/>
<circle cx="745.6" cy="633.7" r="18" fill="url(#gC)"/>
<circle cx="747.9" cy="660.9" r="18" fill="url(#gC)"/>
<circle cx="754" cy="674" r="15" fill="url(#gC)"/>
<circle cx="804.7" cy="687" r="21" fill="url(#gC)"/>
<circle cx="789.98" cy="678.5" r="21" fill="url(#gC)"/>
<circle cx="789.98" cy="661.5" r="21" fill="url(#gC)"/>
<circle cx="804.7" cy="653" r="21" fill="url(#gC)"/>
<circle cx="819.42" cy="661.5" r="21" fill="url(#gC)"/>
<circle cx="819.42" cy="678.5" r="21" fill="url(#gC)"/>
<circle cx="784" cy="700" r="16" fill="url(#gC)"/>
<circle cx="772" cy="688" r="15" fill="url(#gC)"/>
<circle cx="913.7" cy="688.8" r="21" fill="url(#gC)"/>
<circle cx="898.98" cy="680.3" r="21" fill="url(#gC)"/>
<circle cx="898.98" cy="663.3" r="21" fill="url(#gC)"/>
<circle cx="913.7" cy="654.8" r="21" fill="url(#gC)"/>
<circle cx="928.42" cy="663.3" r="21" fill="url(#gC)"/>
<circle cx="928.42" cy="680.3" r="21" fill="url(#gC)"/>
<circle cx="933" cy="700" r="16" fill="url(#gC)"/>
<circle cx="945" cy="688" r="15" fill="url(#gC)"/>
<circle cx="941" cy="632" r="17" fill="url(#gC)"/>
<circle cx="966" cy="602" r="19" fill="url(#gC)"/>
<circle cx="976" cy="630" r="17" fill="url(#gC)"/>
<circle cx="969" cy="682" r="15" fill="url(#gC)"/>
<circle cx="844" cy="700" r="16" fill="url(#gC)"/>
<circle cx="871" cy="700" r="16" fill="url(#gC)"/>
<circle cx="857" cy="718" r="16" fill="url(#gC)"/>
<circle cx="856" cy="783" r="20.5" fill="url(#gC)"/>
<circle cx="841.28" cy="774.5" r="20.5" fill="url(#gC)"/>
<circle cx="841.28" cy="757.5" r="20.5" fill="url(#gC)"/>
<circle cx="856" cy="749" r="20.5" fill="url(#gC)"/>
<circle cx="870.72" cy="757.5" r="20.5" fill="url(#gC)"/>
<circle cx="870.72" cy="774.5" r="20.5" fill="url(#gC)"/>
<circle cx="873.7" cy="819.7" r="17" fill="url(#gC)"/>
<circle cx="858" cy="872" r="20" fill="url(#gC)"/>
<circle cx="843.28" cy="863.5" r="20" fill="url(#gC)"/>
<circle cx="843.28" cy="846.5" r="20" fill="url(#gC)"/>
<circle cx="858" cy="838" r="20" fill="url(#gC)"/>
<circle cx="872.72" cy="846.5" r="20" fill="url(#gC)"/>
<circle cx="872.72" cy="863.5" r="20" fill="url(#gC)"/>
<circle cx="818" cy="945" r="20.5" fill="url(#gC)"/>
<circle cx="803.28" cy="936.5" r="20.5" fill="url(#gC)"/>
<circle cx="803.28" cy="919.5" r="20.5" fill="url(#gC)"/>
<circle cx="818" cy="911" r="20.5" fill="url(#gC)"/>
<circle cx="832.72" cy="919.5" r="20.5" fill="url(#gC)"/>
<circle cx="832.72" cy="936.5" r="20.5" fill="url(#gC)"/>
<circle cx="788" cy="915" r="17" fill="url(#gC)"/>
<circle cx="778" cy="932" r="16" fill="url(#gC)"/>
<circle cx="754" cy="997" r="20" fill="url(#gC)"/>
<circle cx="739.28" cy="988.5" r="20" fill="url(#gC)"/>
<circle cx="739.28" cy="971.5" r="20" fill="url(#gC)"/>
<circle cx="754" cy="963" r="20" fill="url(#gC)"/>
<circle cx="768.72" cy="971.5" r="20" fill="url(#gC)"/>
<circle cx="768.72" cy="988.5" r="20" fill="url(#gC)"/>
<circle cx="887" cy="957" r="21" fill="url(#gC)"/>
<circle cx="872.28" cy="948.5" r="21" fill="url(#gC)"/>
<circle cx="872.28" cy="931.5" r="21" fill="url(#gC)"/>
<circle cx="887" cy="923" r="21" fill="url(#gC)"/>
<circle cx="901.72" cy="931.5" r="21" fill="url(#gC)"/>
<circle cx="901.72" cy="948.5" r="21" fill="url(#gC)"/>
<circle cx="961" cy="997" r="20" fill="url(#gC)"/>
<circle cx="946.28" cy="988.5" r="20" fill="url(#gC)"/>
<circle cx="946.28" cy="971.5" r="20" fill="url(#gC)"/>
<circle cx="961" cy="963" r="20" fill="url(#gC)"/>
<circle cx="975.72" cy="971.5" r="20" fill="url(#gC)"/>
<circle cx="975.72" cy="988.5" r="20" fill="url(#gC)"/>
<path d="M844.7,670 L824.7,704.64 L784.7,704.64 L764.7,670 L784.7,635.36 L824.7,635.36 Z" fill="url(#gHex)" stroke="#b0b0b0" stroke-width="3" stroke-linejoin="round"/><path d="M804.7,670 L844.7,670 L824.7,704.64 Z" fill="#000" fill-opacity="0.05"/><path d="M804.7,670 L824.7,704.64 L784.7,704.64 Z" fill="#000" fill-opacity="0.07"/><path d="M804.7,670 L784.7,704.64 L764.7,670 Z" fill="#000" fill-opacity="0.05"/><path d="M804.7,670 L764.7,670 L784.7,635.36 Z" fill="#fff" fill-opacity="0.1"/><path d="M804.7,670 L784.7,635.36 L824.7,635.36 Z" fill="#fff" fill-opacity="0.14"/><path d="M804.7,670 L824.7,635.36 L844.7,670 Z" fill="#fff" fill-opacity="0.1"/><line x1="804.7" y1="670" x2="844.7" y2="670" stroke="#707070" stroke-opacity="0.25" stroke-width="1.2"/><line x1="804.7" y1="670" x2="824.7" y2="704.64" stroke="#707070" stroke-opacity="0.25" stroke-width="1.2"/><line x1="804.7" y1="670" x2="784.7" y2="704.64" stroke="#707070" stroke-opacity="0.25" stroke-width="1.2"/><line x1="804.7" y1="670" x2="764.7" y2="670" stroke="#707070" stroke-opacity="0.25" stroke-width="1.2"/><line x1="804.7" y1="670" x2="784.7" y2="635.36" stroke="#707070" stroke-opacity="0.25" stroke-width="1.2"/><line x1="804.7" y1="670" x2="824.7" y2="635.36" stroke="#707070" stroke-opacity="0.25" stroke-width="1.2"/><ellipse cx="826.48" cy="679" rx="6" ry="5" fill="url(#gHi)"/><ellipse cx="805.7" cy="691" rx="6" ry="5" fill="url(#gHi)"/><ellipse cx="784.92" cy="679" rx="6" ry="5" fill="url(#gHi)"/><ellipse cx="784.92" cy="655" rx="6" ry="5" fill="url(#gHi)"/><ellipse cx="805.7" cy="643" rx="6" ry="5" fill="url(#gHi)"/><ellipse cx="826.48" cy="655" rx="6" ry="5" fill="url(#gHi)"/>
<path d="M953.7,671.8 L933.7,706.44 L893.7,706.44 L873.7,671.8 L893.7,637.16 L933.7,637.16 Z" fill="url(#gHex)" stroke="#b0b0b0" stroke-width="3" stroke-linejoin="round"/><path d="M913.7,671.8 L953.7,671.8 L933.7,706.44 Z" fill="#000" fill-opacity="0.05"/><path d="M913.7,671.8 L933.7,706.44 L893.7,706.44 Z" fill="#000" fill-opacity="0.07"/><path d="M913.7,671.8 L893.7,706.44 L873.7,671.8 Z" fill="#000" fill-opacity="0.05"/><path d="M913.7,671.8 L873.7,671.8 L893.7,637.16 Z" fill="#fff" fill-opacity="0.1"/><path d="M913.7,671.8 L893.7,637.16 L933.7,637.16 Z" fill="#fff" fill-opacity="0.14"/><path d="M913.7,671.8 L933.7,637.16 L953.7,671.8 Z" fill="#fff" fill-opacity="0.1"/><line x1="913.7" y1="671.8" x2="953.7" y2="671.8" stroke="#707070" stroke-opacity="0.25" stroke-width="1.2"/><line x1="913.7" y1="671.8" x2="933.7" y2="706.44" stroke="#707070" stroke-opacity="0.25" stroke-width="1.2"/><line x1="913.7" y1="671.8" x2="893.7" y2="706.44" stroke="#707070" stroke-opacity="0.25" stroke-width="1.2"/><line x1="913.7" y1="671.8" x2="873.7" y2="671.8" stroke="#707070" stroke-opacity="0.25" stroke-width="1.2"/><line x1="913.7" y1="671.8" x2="893.7" y2="637.16" stroke="#707070" stroke-opacity="0.25" stroke-width="1.2"/><line x1="913.7" y1="671.8" x2="933.7" y2="637.16" stroke="#707070" stroke-opacity="0.25" stroke-width="1.2"/><ellipse cx="935.48" cy="680.8" rx="6" ry="5" fill="url(#gHi)"/><ellipse cx="914.7" cy="692.8" rx="6" ry="5" fill="url(#gHi)"/><ellipse cx="893.92" cy="680.8" rx="6" ry="5" fill="url(#gHi)"/><ellipse cx="893.92" cy="656.8" rx="6" ry="5" fill="url(#gHi)"/><ellipse cx="914.7" cy="644.8" rx="6" ry="5" fill="url(#gHi)"/><ellipse cx="935.48" cy="656.8" rx="6" ry="5" fill="url(#gHi)"/>
<path d="M893,766 L874.5,798.04 L837.5,798.04 L819,766 L837.5,733.96 L874.5,733.96 Z" fill="url(#gHex)" stroke="#b0b0b0" stroke-width="3" stroke-linejoin="round"/><path d="M856,766 L893,766 L874.5,798.04 Z" fill="#000" fill-opacity="0.05"/><path d="M856,766 L874.5,798.04 L837.5,798.04 Z" fill="#000" fill-opacity="0.07"/><path d="M856,766 L837.5,798.04 L819,766 Z" fill="#000" fill-opacity="0.05"/><path d="M856,766 L819,766 L837.5,733.96 Z" fill="#fff" fill-opacity="0.1"/><path d="M856,766 L837.5,733.96 L874.5,733.96 Z" fill="#fff" fill-opacity="0.14"/><path d="M856,766 L874.5,733.96 L893,766 Z" fill="#fff" fill-opacity="0.1"/><line x1="856" y1="766" x2="893" y2="766" stroke="#707070" stroke-opacity="0.25" stroke-width="1.2"/><line x1="856" y1="766" x2="874.5" y2="798.04" stroke="#707070" stroke-opacity="0.25" stroke-width="1.2"/><line x1="856" y1="766" x2="837.5" y2="798.04" stroke="#707070" stroke-opacity="0.25" stroke-width="1.2"/><line x1="856" y1="766" x2="819" y2="766" stroke="#707070" stroke-opacity="0.25" stroke-width="1.2"/><line x1="856" y1="766" x2="837.5" y2="733.96" stroke="#707070" stroke-opacity="0.25" stroke-width="1.2"/><line x1="856" y1="766" x2="874.5" y2="733.96" stroke="#707070" stroke-opacity="0.25" stroke-width="1.2"/><ellipse cx="876.23" cy="774.1" rx="6" ry="5" fill="url(#gHi)"/><ellipse cx="857" cy="785.2" rx="6" ry="5" fill="url(#gHi)"/><ellipse cx="837.77" cy="774.1" rx="6" ry="5" fill="url(#gHi)"/><ellipse cx="837.77" cy="751.9" rx="6" ry="5" fill="url(#gHi)"/><ellipse cx="857" cy="740.8" rx="6" ry="5" fill="url(#gHi)"/><ellipse cx="876.23" cy="751.9" rx="6" ry="5" fill="url(#gHi)"/>
<path d="M894,855 L876,886.18 L840,886.18 L822,855 L840,823.82 L876,823.82 Z" fill="url(#gHex)" stroke="#b0b0b0" stroke-width="3" stroke-linejoin="round"/><path d="M858,855 L894,855 L876,886.18 Z" fill="#000" fill-opacity="0.05"/><path d="M858,855 L876,886.18 L840,886.18 Z" fill="#000" fill-opacity="0.07"/><path d="M858,855 L840,886.18 L822,855 Z" fill="#000" fill-opacity="0.05"/><path d="M858,855 L822,855 L840,823.82 Z" fill="#fff" fill-opacity="0.1"/><path d="M858,855 L840,823.82 L876,823.82 Z" fill="#fff" fill-opacity="0.14"/><path d="M858,855 L876,823.82 L894,855 Z" fill="#fff" fill-opacity="0.1"/><line x1="858" y1="855" x2="894" y2="855" stroke="#707070" stroke-opacity="0.25" stroke-width="1.2"/><line x1="858" y1="855" x2="876" y2="886.18" stroke="#707070" stroke-opacity="0.25" stroke-width="1.2"/><line x1="858" y1="855" x2="840" y2="886.18" stroke="#707070" stroke-opacity="0.25" stroke-width="1.2"/><line x1="858" y1="855" x2="822" y2="855" stroke="#707070" stroke-opacity="0.25" stroke-width="1.2"/><line x1="858" y1="855" x2="840" y2="823.82" stroke="#707070" stroke-opacity="0.25" stroke-width="1.2"/><line x1="858" y1="855" x2="876" y2="823.82" stroke="#707070" stroke-opacity="0.25" stroke-width="1.2"/><ellipse cx="877.71" cy="862.8" rx="6" ry="5" fill="url(#gHi)"/><ellipse cx="859" cy="873.6" rx="6" ry="5" fill="url(#gHi)"/><ellipse cx="840.29" cy="862.8" rx="6" ry="5" fill="url(#gHi)"/><ellipse cx="840.29" cy="841.2" rx="6" ry="5" fill="url(#gHi)"/><ellipse cx="859" cy="830.4" rx="6" ry="5" fill="url(#gHi)"/><ellipse cx="877.71" cy="841.2" rx="6" ry="5" fill="url(#gHi)"/>
<path d="M855,928 L836.5,960.04 L799.5,960.04 L781,928 L799.5,895.96 L836.5,895.96 Z" fill="url(#gHex)" stroke="#b0b0b0" stroke-width="3" stroke-linejoin="round"/><path d="M818,928 L855,928 L836.5,960.04 Z" fill="#000" fill-opacity="0.05"/><path d="M818,928 L836.5,960.04 L799.5,960.04 Z" fill="#000" fill-opacity="0.07"/><path d="M818,928 L799.5,960.04 L781,928 Z" fill="#000" fill-opacity="0.05"/><path d="M818,928 L781,928 L799.5,895.96 Z" fill="#fff" fill-opacity="0.1"/><path d="M818,928 L799.5,895.96 L836.5,895.96 Z" fill="#fff" fill-opacity="0.14"/><path d="M818,928 L836.5,895.96 L855,928 Z" fill="#fff" fill-opacity="0.1"/><line x1="818" y1="928" x2="855" y2="928" stroke="#707070" stroke-opacity="0.25" stroke-width="1.2"/><line x1="818" y1="928" x2="836.5" y2="960.04" stroke="#707070" stroke-opacity="0.25" stroke-width="1.2"/><line x1="818" y1="928" x2="799.5" y2="960.04" stroke="#707070" stroke-opacity="0.25" stroke-width="1.2"/><line x1="818" y1="928" x2="781" y2="928" stroke="#707070" stroke-opacity="0.25" stroke-width="1.2"/><line x1="818" y1="928" x2="799.5" y2="895.96" stroke="#707070" stroke-opacity="0.25" stroke-width="1.2"/><line x1="818" y1="928" x2="836.5" y2="895.96" stroke="#707070" stroke-opacity="0.25" stroke-width="1.2"/><ellipse cx="838.23" cy="936.1" rx="6" ry="5" fill="url(#gHi)"/><ellipse cx="819" cy="947.2" rx="6" ry="5" fill="url(#gHi)"/><ellipse cx="799.77" cy="936.1" rx="6" ry="5" fill="url(#gHi)"/><ellipse cx="799.77" cy="913.9" rx="6" ry="5" fill="url(#gHi)"/><ellipse cx="819" cy="902.8" rx="6" ry="5" fill="url(#gHi)"/><ellipse cx="838.23" cy="913.9" rx="6" ry="5" fill="url(#gHi)"/>
<path d="M791,980 L772.5,1012.04 L735.5,1012.04 L717,980 L735.5,947.96 L772.5,947.96 Z" fill="url(#gHex)" stroke="#b0b0b0" stroke-width="3" stroke-linejoin="round"/><path d="M754,980 L791,980 L772.5,1012.04 Z" fill="#000" fill-opacity="0.05"/><path d="M754,980 L772.5,1012.04 L735.5,1012.04 Z" fill="#000" fill-opacity="0.07"/><path d="M754,980 L735.5,1012.04 L717,980 Z" fill="#000" fill-opacity="0.05"/><path d="M754,980 L717,980 L735.5,947.96 Z" fill="#fff" fill-opacity="0.1"/><path d="M754,980 L735.5,947.96 L772.5,947.96 Z" fill="#fff" fill-opacity="0.14"/><path d="M754,980 L772.5,947.96 L791,980 Z" fill="#fff" fill-opacity="0.1"/><line x1="754" y1="980" x2="791" y2="980" stroke="#707070" stroke-opacity="0.25" stroke-width="1.2"/><line x1="754" y1="980" x2="772.5" y2="1012.04" stroke="#707070" stroke-opacity="0.25" stroke-width="1.2"/><line x1="754" y1="980" x2="735.5" y2="1012.04" stroke="#707070" stroke-opacity="0.25" stroke-width="1.2"/><line x1="754" y1="980" x2="717" y2="980" stroke="#707070" stroke-opacity="0.25" stroke-width="1.2"/><line x1="754" y1="980" x2="735.5" y2="947.96" stroke="#707070" stroke-opacity="0.25" stroke-width="1.2"/><line x1="754" y1="980" x2="772.5" y2="947.96" stroke="#707070" stroke-opacity="0.25" stroke-width="1.2"/><ellipse cx="774.23" cy="988.1" rx="6" ry="5" fill="url(#gHi)"/><ellipse cx="755" cy="999.2" rx="6" ry="5" fill="url(#gHi)"/><ellipse cx="735.77" cy="988.1" rx="6" ry="5" fill="url(#gHi)"/><ellipse cx="735.77" cy="965.9" rx="6" ry="5" fill="url(#gHi)"/><ellipse cx="755" cy="954.8" rx="6" ry="5" fill="url(#gHi)"/><ellipse cx="774.23" cy="965.9" rx="6" ry="5" fill="url(#gHi)"/>
<path d="M925,940 L906,972.91 L868,972.91 L849,940 L868,907.09 L906,907.09 Z" fill="url(#gHex)" stroke="#b0b0b0" stroke-width="3" stroke-linejoin="round"/><path d="M887,940 L925,940 L906,972.91 Z" fill="#000" fill-opacity="0.05"/><path d="M887,940 L906,972.91 L868,972.91 Z" fill="#000" fill-opacity="0.07"/><path d="M887,940 L868,972.91 L849,940 Z" fill="#000" fill-opacity="0.05"/><path d="M887,940 L849,940 L868,907.09 Z" fill="#fff" fill-opacity="0.1"/><path d="M887,940 L868,907.09 L906,907.09 Z" fill="#fff" fill-opacity="0.14"/><path d="M887,940 L906,907.09 L925,940 Z" fill="#fff" fill-opacity="0.1"/><line x1="887" y1="940" x2="925" y2="940" stroke="#707070" stroke-opacity="0.25" stroke-width="1.2"/><line x1="887" y1="940" x2="906" y2="972.91" stroke="#707070" stroke-opacity="0.25" stroke-width="1.2"/><line x1="887" y1="940" x2="868" y2="972.91" stroke="#707070" stroke-opacity="0.25" stroke-width="1.2"/><line x1="887" y1="940" x2="849" y2="940" stroke="#707070" stroke-opacity="0.25" stroke-width="1.2"/><line x1="887" y1="940" x2="868" y2="907.09" stroke="#707070" stroke-opacity="0.25" stroke-width="1.2"/><line x1="887" y1="940" x2="906" y2="907.09" stroke="#707070" stroke-opacity="0.25" stroke-width="1.2"/><ellipse cx="907.75" cy="948.4" rx="6" ry="5" fill="url(#gHi)"/><ellipse cx="888" cy="959.8" rx="6" ry="5" fill="url(#gHi)"/><ellipse cx="868.25" cy="948.4" rx="6" ry="5" fill="url(#gHi)"/><ellipse cx="868.25" cy="925.6" rx="6" ry="5" fill="url(#gHi)"/><ellipse cx="888" cy="914.2" rx="6" ry="5" fill="url(#gHi)"/><ellipse cx="907.75" cy="925.6" rx="6" ry="5" fill="url(#gHi)"/>
<path d="M998,980 L979.5,1012.04 L942.5,1012.04 L924,980 L942.5,947.96 L979.5,947.96 Z" fill="url(#gHex)" stroke="#b0b0b0" stroke-width="3" stroke-linejoin="round"/><path d="M961,980 L998,980 L979.5,1012.04 Z" fill="#000" fill-opacity="0.05"/><path d="M961,980 L979.5,1012.04 L942.5,1012.04 Z" fill="#000" fill-opacity="0.07"/><path d="M961,980 L942.5,1012.04 L924,980 Z" fill="#000" fill-opacity="0.05"/><path d="M961,980 L924,980 L942.5,947.96 Z" fill="#fff" fill-opacity="0.1"/><path d="M961,980 L942.5,947.96 L979.5,947.96 Z" fill="#fff" fill-opacity="0.14"/><path d="M961,980 L979.5,947.96 L998,980 Z" fill="#fff" fill-opacity="0.1"/><line x1="961" y1="980" x2="998" y2="980" stroke="#707070" stroke-opacity="0.25" stroke-width="1.2"/><line x1="961" y1="980" x2="979.5" y2="1012.04" stroke="#707070" stroke-opacity="0.25" stroke-width="1.2"/><line x1="961" y1="980" x2="942.5" y2="1012.04" stroke="#707070" stroke-opacity="0.25" stroke-width="1.2"/><line x1="961" y1="980" x2="924" y2="980" stroke="#707070" stroke-opacity="0.25" stroke-width="1.2"/><line x1="961" y1="980" x2="942.5" y2="947.96" stroke="#707070" stroke-opacity="0.25" stroke-width="1.2"/><line x1="961" y1="980" x2="979.5" y2="947.96" stroke="#707070" stroke-opacity="0.25" stroke-width="1.2"/><ellipse cx="981.23" cy="988.1" rx="6" ry="5" fill="url(#gHi)"/><ellipse cx="962" cy="999.2" rx="6" ry="5" fill="url(#gHi)"/><ellipse cx="942.77" cy="988.1" rx="6" ry="5" fill="url(#gHi)"/><ellipse cx="942.77" cy="965.9" rx="6" ry="5" fill="url(#gHi)"/><ellipse cx="962" cy="954.8" rx="6" ry="5" fill="url(#gHi)"/><ellipse cx="981.23" cy="965.9" rx="6" ry="5" fill="url(#gHi)"/>
<circle cx="770.5" cy="642.5" r="17" fill="url(#gN)"/>
<circle cx="959.1" cy="661.2" r="17" fill="url(#gN)"/>
<circle cx="860.7" cy="674.8" r="16" fill="url(#gN)"/>
<circle cx="828.9" cy="720.2" r="17" fill="url(#gN)"/>
<circle cx="886.4" cy="720.2" r="17" fill="url(#gN)"/>
<circle cx="848.8" cy="816.2" r="18.5" fill="url(#gN)"/>
<circle cx="856.1" cy="910.9" r="12" fill="url(#gN)"/>
<circle cx="783.5" cy="960.9" r="17" fill="url(#gN)"/>
<circle cx="944" cy="945.7" r="17" fill="url(#gN)"/>
<circle cx="815.3" cy="961.9" r="15" fill="url(#gH)"/>
<circle cx="851.6" cy="942.2" r="14" fill="url(#gH)"/>
<circle cx="889.5" cy="896.7" r="15" fill="url(#gH)"/>
</g>
<path d="M736.9,590.8 H978.9" stroke="#3a3a3a" stroke-width="2.2" stroke-dasharray="7.5 6.3" fill="none" stroke-dashoffset="-6"/>
<path d="M736.9,1035.5 H978.9" stroke="#3a3a3a" stroke-width="2.2" stroke-dasharray="7.5 6.3" fill="none" stroke-dashoffset="-6"/>
<path d="M736.9,590.8 V1035.5" stroke="#3a3a3a" stroke-width="2.2" stroke-dasharray="7.5 6.3" fill="none" stroke-dashoffset="1"/>
<path d="M978.9,590.8 V1035.5" stroke="#3a3a3a" stroke-width="2.2" stroke-dasharray="7.5 6.3" fill="none" stroke-dashoffset="1"/>
<g clip-path="url(#clipE1)">
<circle cx="1029.5" cy="612.7" r="15" fill="url(#gH)"/>
<circle cx="1084" cy="626.3" r="15" fill="url(#gH)"/>
<circle cx="1123.3" cy="650.6" r="14" fill="url(#gH)"/>
<circle cx="1035.5" cy="690" r="13" fill="url(#gH)"/>
<circle cx="1077.9" cy="718.2" r="15" fill="url(#gH)"/>
<circle cx="1047.6" cy="697" r="14" fill="url(#gH)"/>
<circle cx="1150.6" cy="650.6" r="14" fill="url(#gH)"/>
<circle cx="1193" cy="630.9" r="15" fill="url(#gH)"/>
<circle cx="1229.3" cy="702" r="15" fill="url(#gH)"/>
<circle cx="1191.5" cy="724.3" r="15" fill="url(#gH)"/>
<circle cx="1230.9" cy="606.7" r="12" fill="url(#gH)"/>
<circle cx="1093" cy="746.7" r="14" fill="url(#gH)"/>
<circle cx="1171.3" cy="750.3" r="14" fill="url(#gH)"/>
<circle cx="1089.5" cy="787.7" r="14" fill="url(#gH)"/>
<circle cx="1168" cy="794.8" r="13" fill="url(#gH)"/>
<circle cx="1101.9" cy="842.9" r="14" fill="url(#gH)"/>
<circle cx="1167.8" cy="850" r="14" fill="url(#gH)"/>
<circle cx="1101.9" cy="876" r="14" fill="url(#gH)"/>
<circle cx="1166" cy="884.8" r="14" fill="url(#gH)"/>
<circle cx="1040.1" cy="929" r="12" fill="url(#gH)"/>
<circle cx="1053.7" cy="1003.3" r="14" fill="url(#gH)"/>
<circle cx="1020.3" cy="1027.5" r="13" fill="url(#gH)"/>
<circle cx="1059.3" cy="903" r="12" fill="url(#gH)"/>
<circle cx="1202.1" cy="915.4" r="15" fill="url(#gH)"/>
<circle cx="1214.2" cy="994.2" r="15" fill="url(#gH)"/>
<circle cx="1244.5" cy="1018.4" r="14" fill="url(#gH)"/>
<circle cx="1247.5" cy="927.5" r="14" fill="url(#gH)"/>
<circle cx="1197.6" cy="977" r="12" fill="url(#gH)"/>
<circle cx="1021.9" cy="633.7" r="18" fill="url(#gC)"/>
<circle cx="1024.2" cy="660.9" r="18" fill="url(#gC)"/>
<circle cx="1030.3" cy="674" r="15" fill="url(#gC)"/>
<circle cx="1081" cy="687" r="21" fill="url(#gC)"/>
<circle cx="1066.28" cy="678.5" r="21" fill="url(#gC)"/>
<circle cx="1066.28" cy="661.5" r="21" fill="url(#gC)"/>
<circle cx="1081" cy="653" r="21" fill="url(#gC)"/>
<circle cx="1095.72" cy="661.5" r="21" fill="url(#gC)"/>
<circle cx="1095.72" cy="678.5" r="21" fill="url(#gC)"/>
<circle cx="1060.3" cy="700" r="16" fill="url(#gC)"/>
<circle cx="1048.3" cy="688" r="15" fill="url(#gC)"/>
<circle cx="1190" cy="688.8" r="21" fill="url(#gC)"/>
<circle cx="1175.28" cy="680.3" r="21" fill="url(#gC)"/>
<circle cx="1175.28" cy="663.3" r="21" fill="url(#gC)"/>
<circle cx="1190" cy="654.8" r="21" fill="url(#gC)"/>
<circle cx="1204.72" cy="663.3" r="21" fill="url(#gC)"/>
<circle cx="1204.72" cy="680.3" r="21" fill="url(#gC)"/>
<circle cx="1209.3" cy="700" r="16" fill="url(#gC)"/>
<circle cx="1221.3" cy="688" r="15" fill="url(#gC)"/>
<circle cx="1217.3" cy="632" r="17" fill="url(#gC)"/>
<circle cx="1242.3" cy="602" r="19" fill="url(#gC)"/>
<circle cx="1252.3" cy="630" r="17" fill="url(#gC)"/>
<circle cx="1245.3" cy="682" r="15" fill="url(#gC)"/>
<circle cx="1120.3" cy="700" r="16" fill="url(#gC)"/>
<circle cx="1147.3" cy="700" r="16" fill="url(#gC)"/>
<circle cx="1133.3" cy="718" r="16" fill="url(#gC)"/>
<circle cx="1132.3" cy="783" r="20.5" fill="url(#gC)"/>
<circle cx="1117.58" cy="774.5" r="20.5" fill="url(#gC)"/>
<circle cx="1117.58" cy="757.5" r="20.5" fill="url(#gC)"/>
<circle cx="1132.3" cy="749" r="20.5" fill="url(#gC)"/>
<circle cx="1147.02" cy="757.5" r="20.5" fill="url(#gC)"/>
<circle cx="1147.02" cy="774.5" r="20.5" fill="url(#gC)"/>
<circle cx="1150" cy="819.7" r="17" fill="url(#gC)"/>
<circle cx="1134.3" cy="872" r="20" fill="url(#gC)"/>
<circle cx="1119.58" cy="863.5" r="20" fill="url(#gC)"/>
<circle cx="1119.58" cy="846.5" r="20" fill="url(#gC)"/>
<circle cx="1134.3" cy="838" r="20" fill="url(#gC)"/>
<circle cx="1149.02" cy="846.5" r="20" fill="url(#gC)"/>
<circle cx="1149.02" cy="863.5" r="20" fill="url(#gC)"/>
<circle cx="1094.3" cy="945" r="20.5" fill="url(#gC)"/>
<circle cx="1079.58" cy="936.5" r="20.5" fill="url(#gC)"/>
<circle cx="1079.58" cy="919.5" r="20.5" fill="url(#gC)"/>
<circle cx="1094.3" cy="911" r="20.5" fill="url(#gC)"/>
<circle cx="1109.02" cy="919.5" r="20.5" fill="url(#gC)"/>
<circle cx="1109.02" cy="936.5" r="20.5" fill="url(#gC)"/>
<circle cx="1064.3" cy="915" r="17" fill="url(#gC)"/>
<circle cx="1054.3" cy="932" r="16" fill="url(#gC)"/>
<circle cx="1030.3" cy="997" r="20" fill="url(#gC)"/>
<circle cx="1015.58" cy="988.5" r="20" fill="url(#gC)"/>
<circle cx="1015.58" cy="971.5" r="20" fill="url(#gC)"/>
<circle cx="1030.3" cy="963" r="20" fill="url(#gC)"/>
<circle cx="1045.02" cy="971.5" r="20" fill="url(#gC)"/>
<circle cx="1045.02" cy="988.5" r="20" fill="url(#gC)"/>
<circle cx="1163.3" cy="957" r="21" fill="url(#gC)"/>
<circle cx="1148.58" cy="948.5" r="21" fill="url(#gC)"/>
<circle cx="1148.58" cy="931.5" r="21" fill="url(#gC)"/>
<circle cx="1163.3" cy="923" r="21" fill="url(#gC)"/>
<circle cx="1178.02" cy="931.5" r="21" fill="url(#gC)"/>
<circle cx="1178.02" cy="948.5" r="21" fill="url(#gC)"/>
<circle cx="1237.3" cy="997" r="20" fill="url(#gC)"/>
<circle cx="1222.58" cy="988.5" r="20" fill="url(#gC)"/>
<circle cx="1222.58" cy="971.5" r="20" fill="url(#gC)"/>
<circle cx="1237.3" cy="963" r="20" fill="url(#gC)"/>
<circle cx="1252.02" cy="971.5" r="20" fill="url(#gC)"/>
<circle cx="1252.02" cy="988.5" r="20" fill="url(#gC)"/>
<path d="M1121,670 L1101,704.64 L1061,704.64 L1041,670 L1061,635.36 L1101,635.36 Z" fill="url(#gHex)" stroke="#b0b0b0" stroke-width="3" stroke-linejoin="round"/><path d="M1081,670 L1121,670 L1101,704.64 Z" fill="#000" fill-opacity="0.05"/><path d="M1081,670 L1101,704.64 L1061,704.64 Z" fill="#000" fill-opacity="0.07"/><path d="M1081,670 L1061,704.64 L1041,670 Z" fill="#000" fill-opacity="0.05"/><path d="M1081,670 L1041,670 L1061,635.36 Z" fill="#fff" fill-opacity="0.1"/><path d="M1081,670 L1061,635.36 L1101,635.36 Z" fill="#fff" fill-opacity="0.14"/><path d="M1081,670 L1101,635.36 L1121,670 Z" fill="#fff" fill-opacity="0.1"/><line x1="1081" y1="670" x2="1121" y2="670" stroke="#707070" stroke-opacity="0.25" stroke-width="1.2"/><line x1="1081" y1="670" x2="1101" y2="704.64" stroke="#707070" stroke-opacity="0.25" stroke-width="1.2"/><line x1="1081" y1="670" x2="1061" y2="704.64" stroke="#707070" stroke-opacity="0.25" stroke-width="1.2"/><line x1="1081" y1="670" x2="1041" y2="670" stroke="#707070" stroke-opacity="0.25" stroke-width="1.2"/><line x1="1081" y1="670" x2="1061" y2="635.36" stroke="#707070" stroke-opacity="0.25" stroke-width="1.2"/><line x1="1081" y1="670" x2="1101" y2="635.36" stroke="#707070" stroke-opacity="0.25" stroke-width="1.2"/><ellipse cx="1102.78" cy="679" rx="6" ry="5" fill="url(#gHi)"/><ellipse cx="1082" cy="691" rx="6" ry="5" fill="url(#gHi)"/><ellipse cx="1061.22" cy="679" rx="6" ry="5" fill="url(#gHi)"/><ellipse cx="1061.22" cy="655" rx="6" ry="5" fill="url(#gHi)"/><ellipse cx="1082" cy="643" rx="6" ry="5" fill="url(#gHi)"/><ellipse cx="1102.78" cy="655" rx="6" ry="5" fill="url(#gHi)"/>
<path d="M1230,671.8 L1210,706.44 L1170,706.44 L1150,671.8 L1170,637.16 L1210,637.16 Z" fill="url(#gHex)" stroke="#b0b0b0" stroke-width="3" stroke-linejoin="round"/><path d="M1190,671.8 L1230,671.8 L1210,706.44 Z" fill="#000" fill-opacity="0.05"/><path d="M1190,671.8 L1210,706.44 L1170,706.44 Z" fill="#000" fill-opacity="0.07"/><path d="M1190,671.8 L1170,706.44 L1150,671.8 Z" fill="#000" fill-opacity="0.05"/><path d="M1190,671.8 L1150,671.8 L1170,637.16 Z" fill="#fff" fill-opacity="0.1"/><path d="M1190,671.8 L1170,637.16 L1210,637.16 Z" fill="#fff" fill-opacity="0.14"/><path d="M1190,671.8 L1210,637.16 L1230,671.8 Z" fill="#fff" fill-opacity="0.1"/><line x1="1190" y1="671.8" x2="1230" y2="671.8" stroke="#707070" stroke-opacity="0.25" stroke-width="1.2"/><line x1="1190" y1="671.8" x2="1210" y2="706.44" stroke="#707070" stroke-opacity="0.25" stroke-width="1.2"/><line x1="1190" y1="671.8" x2="1170" y2="706.44" stroke="#707070" stroke-opacity="0.25" stroke-width="1.2"/><line x1="1190" y1="671.8" x2="1150" y2="671.8" stroke="#707070" stroke-opacity="0.25" stroke-width="1.2"/><line x1="1190" y1="671.8" x2="1170" y2="637.16" stroke="#707070" stroke-opacity="0.25" stroke-width="1.2"/><line x1="1190" y1="671.8" x2="1210" y2="637.16" stroke="#707070" stroke-opacity="0.25" stroke-width="1.2"/><ellipse cx="1211.78" cy="680.8" rx="6" ry="5" fill="url(#gHi)"/><ellipse cx="1191" cy="692.8" rx="6" ry="5" fill="url(#gHi)"/><ellipse cx="1170.22" cy="680.8" rx="6" ry="5" fill="url(#gHi)"/><ellipse cx="1170.22" cy="656.8" rx="6" ry="5" fill="url(#gHi)"/><ellipse cx="1191" cy="644.8" rx="6" ry="5" fill="url(#gHi)"/><ellipse cx="1211.78" cy="656.8" rx="6" ry="5" fill="url(#gHi)"/>
<path d="M1169.3,766 L1150.8,798.04 L1113.8,798.04 L1095.3,766 L1113.8,733.96 L1150.8,733.96 Z" fill="url(#gHex)" stroke="#b0b0b0" stroke-width="3" stroke-linejoin="round"/><path d="M1132.3,766 L1169.3,766 L1150.8,798.04 Z" fill="#000" fill-opacity="0.05"/><path d="M1132.3,766 L1150.8,798.04 L1113.8,798.04 Z" fill="#000" fill-opacity="0.07"/><path d="M1132.3,766 L1113.8,798.04 L1095.3,766 Z" fill="#000" fill-opacity="0.05"/><path d="M1132.3,766 L1095.3,766 L1113.8,733.96 Z" fill="#fff" fill-opacity="0.1"/><path d="M1132.3,766 L1113.8,733.96 L1150.8,733.96 Z" fill="#fff" fill-opacity="0.14"/><path d="M1132.3,766 L1150.8,733.96 L1169.3,766 Z" fill="#fff" fill-opacity="0.1"/><line x1="1132.3" y1="766" x2="1169.3" y2="766" stroke="#707070" stroke-opacity="0.25" stroke-width="1.2"/><line x1="1132.3" y1="766" x2="1150.8" y2="798.04" stroke="#707070" stroke-opacity="0.25" stroke-width="1.2"/><line x1="1132.3" y1="766" x2="1113.8" y2="798.04" stroke="#707070" stroke-opacity="0.25" stroke-width="1.2"/><line x1="1132.3" y1="766" x2="1095.3" y2="766" stroke="#707070" stroke-opacity="0.25" stroke-width="1.2"/><line x1="1132.3" y1="766" x2="1113.8" y2="733.96" stroke="#707070" stroke-opacity="0.25" stroke-width="1.2"/><line x1="1132.3" y1="766" x2="1150.8" y2="733.96" stroke="#707070" stroke-opacity="0.25" stroke-width="1.2"/><ellipse cx="1152.53" cy="774.1" rx="6" ry="5" fill="url(#gHi)"/><ellipse cx="1133.3" cy="785.2" rx="6" ry="5" fill="url(#gHi)"/><ellipse cx="1114.07" cy="774.1" rx="6" ry="5" fill="url(#gHi)"/><ellipse cx="1114.07" cy="751.9" rx="6" ry="5" fill="url(#gHi)"/><ellipse cx="1133.3" cy="740.8" rx="6" ry="5" fill="url(#gHi)"/><ellipse cx="1152.53" cy="751.9" rx="6" ry="5" fill="url(#gHi)"/>
<path d="M1170.3,855 L1152.3,886.18 L1116.3,886.18 L1098.3,855 L1116.3,823.82 L1152.3,823.82 Z" fill="url(#gHex)" stroke="#b0b0b0" stroke-width="3" stroke-linejoin="round"/><path d="M1134.3,855 L1170.3,855 L1152.3,886.18 Z" fill="#000" fill-opacity="0.05"/><path d="M1134.3,855 L1152.3,886.18 L1116.3,886.18 Z" fill="#000" fill-opacity="0.07"/><path d="M1134.3,855 L1116.3,886.18 L1098.3,855 Z" fill="#000" fill-opacity="0.05"/><path d="M1134.3,855 L1098.3,855 L1116.3,823.82 Z" fill="#fff" fill-opacity="0.1"/><path d="M1134.3,855 L1116.3,823.82 L1152.3,823.82 Z" fill="#fff" fill-opacity="0.14"/><path d="M1134.3,855 L1152.3,823.82 L1170.3,855 Z" fill="#fff" fill-opacity="0.1"/><line x1="1134.3" y1="855" x2="1170.3" y2="855" stroke="#707070" stroke-opacity="0.25" stroke-width="1.2"/><line x1="1134.3" y1="855" x2="1152.3" y2="886.18" stroke="#707070" stroke-opacity="0.25" stroke-width="1.2"/><line x1="1134.3" y1="855" x2="1116.3" y2="886.18" stroke="#707070" stroke-opacity="0.25" stroke-width="1.2"/><line x1="1134.3" y1="855" x2="1098.3" y2="855" stroke="#707070" stroke-opacity="0.25" stroke-width="1.2"/><line x1="1134.3" y1="855" x2="1116.3" y2="823.82" stroke="#707070" stroke-opacity="0.25" stroke-width="1.2"/><line x1="1134.3" y1="855" x2="1152.3" y2="823.82" stroke="#707070" stroke-opacity="0.25" stroke-width="1.2"/><ellipse cx="1154.01" cy="862.8" rx="6" ry="5" fill="url(#gHi)"/><ellipse cx="1135.3" cy="873.6" rx="6" ry="5" fill="url(#gHi)"/><ellipse cx="1116.59" cy="862.8" rx="6" ry="5" fill="url(#gHi)"/><ellipse cx="1116.59" cy="841.2" rx="6" ry="5" fill="url(#gHi)"/><ellipse cx="1135.3" cy="830.4" rx="6" ry="5" fill="url(#gHi)"/><ellipse cx="1154.01" cy="841.2" rx="6" ry="5" fill="url(#gHi)"/>
<path d="M1131.3,928 L1112.8,960.04 L1075.8,960.04 L1057.3,928 L1075.8,895.96 L1112.8,895.96 Z" fill="url(#gHex)" stroke="#b0b0b0" stroke-width="3" stroke-linejoin="round"/><path d="M1094.3,928 L1131.3,928 L1112.8,960.04 Z" fill="#000" fill-opacity="0.05"/><path d="M1094.3,928 L1112.8,960.04 L1075.8,960.04 Z" fill="#000" fill-opacity="0.07"/><path d="M1094.3,928 L1075.8,960.04 L1057.3,928 Z" fill="#000" fill-opacity="0.05"/><path d="M1094.3,928 L1057.3,928 L1075.8,895.96 Z" fill="#fff" fill-opacity="0.1"/><path d="M1094.3,928 L1075.8,895.96 L1112.8,895.96 Z" fill="#fff" fill-opacity="0.14"/><path d="M1094.3,928 L1112.8,895.96 L1131.3,928 Z" fill="#fff" fill-opacity="0.1"/><line x1="1094.3" y1="928" x2="1131.3" y2="928" stroke="#707070" stroke-opacity="0.25" stroke-width="1.2"/><line x1="1094.3" y1="928" x2="1112.8" y2="960.04" stroke="#707070" stroke-opacity="0.25" stroke-width="1.2"/><line x1="1094.3" y1="928" x2="1075.8" y2="960.04" stroke="#707070" stroke-opacity="0.25" stroke-width="1.2"/><line x1="1094.3" y1="928" x2="1057.3" y2="928" stroke="#707070" stroke-opacity="0.25" stroke-width="1.2"/><line x1="1094.3" y1="928" x2="1075.8" y2="895.96" stroke="#707070" stroke-opacity="0.25" stroke-width="1.2"/><line x1="1094.3" y1="928" x2="1112.8" y2="895.96" stroke="#707070" stroke-opacity="0.25" stroke-width="1.2"/><ellipse cx="1114.53" cy="936.1" rx="6" ry="5" fill="url(#gHi)"/><ellipse cx="1095.3" cy="947.2" rx="6" ry="5" fill="url(#gHi)"/><ellipse cx="1076.07" cy="936.1" rx="6" ry="5" fill="url(#gHi)"/><ellipse cx="1076.07" cy="913.9" rx="6" ry="5" fill="url(#gHi)"/><ellipse cx="1095.3" cy="902.8" rx="6" ry="5" fill="url(#gHi)"/><ellipse cx="1114.53" cy="913.9" rx="6" ry="5" fill="url(#gHi)"/>
<path d="M1067.3,980 L1048.8,1012.04 L1011.8,1012.04 L993.3,980 L1011.8,947.96 L1048.8,947.96 Z" fill="url(#gHex)" stroke="#b0b0b0" stroke-width="3" stroke-linejoin="round"/><path d="M1030.3,980 L1067.3,980 L1048.8,1012.04 Z" fill="#000" fill-opacity="0.05"/><path d="M1030.3,980 L1048.8,1012.04 L1011.8,1012.04 Z" fill="#000" fill-opacity="0.07"/><path d="M1030.3,980 L1011.8,1012.04 L993.3,980 Z" fill="#000" fill-opacity="0.05"/><path d="M1030.3,980 L993.3,980 L1011.8,947.96 Z" fill="#fff" fill-opacity="0.1"/><path d="M1030.3,980 L1011.8,947.96 L1048.8,947.96 Z" fill="#fff" fill-opacity="0.14"/><path d="M1030.3,980 L1048.8,947.96 L1067.3,980 Z" fill="#fff" fill-opacity="0.1"/><line x1="1030.3" y1="980" x2="1067.3" y2="980" stroke="#707070" stroke-opacity="0.25" stroke-width="1.2"/><line x1="1030.3" y1="980" x2="1048.8" y2="1012.04" stroke="#707070" stroke-opacity="0.25" stroke-width="1.2"/><line x1="1030.3" y1="980" x2="1011.8" y2="1012.04" stroke="#707070" stroke-opacity="0.25" stroke-width="1.2"/><line x1="1030.3" y1="980" x2="993.3" y2="980" stroke="#707070" stroke-opacity="0.25" stroke-width="1.2"/><line x1="1030.3" y1="980" x2="1011.8" y2="947.96" stroke="#707070" stroke-opacity="0.25" stroke-width="1.2"/><line x1="1030.3" y1="980" x2="1048.8" y2="947.96" stroke="#707070" stroke-opacity="0.25" stroke-width="1.2"/><ellipse cx="1050.53" cy="988.1" rx="6" ry="5" fill="url(#gHi)"/><ellipse cx="1031.3" cy="999.2" rx="6" ry="5" fill="url(#gHi)"/><ellipse cx="1012.07" cy="988.1" rx="6" ry="5" fill="url(#gHi)"/><ellipse cx="1012.07" cy="965.9" rx="6" ry="5" fill="url(#gHi)"/><ellipse cx="1031.3" cy="954.8" rx="6" ry="5" fill="url(#gHi)"/><ellipse cx="1050.53" cy="965.9" rx="6" ry="5" fill="url(#gHi)"/>
<path d="M1201.3,940 L1182.3,972.91 L1144.3,972.91 L1125.3,940 L1144.3,907.09 L1182.3,907.09 Z" fill="url(#gHex)" stroke="#b0b0b0" stroke-width="3" stroke-linejoin="round"/><path d="M1163.3,940 L1201.3,940 L1182.3,972.91 Z" fill="#000" fill-opacity="0.05"/><path d="M1163.3,940 L1182.3,972.91 L1144.3,972.91 Z" fill="#000" fill-opacity="0.07"/><path d="M1163.3,940 L1144.3,972.91 L1125.3,940 Z" fill="#000" fill-opacity="0.05"/><path d="M1163.3,940 L1125.3,940 L1144.3,907.09 Z" fill="#fff" fill-opacity="0.1"/><path d="M1163.3,940 L1144.3,907.09 L1182.3,907.09 Z" fill="#fff" fill-opacity="0.14"/><path d="M1163.3,940 L1182.3,907.09 L1201.3,940 Z" fill="#fff" fill-opacity="0.1"/><line x1="1163.3" y1="940" x2="1201.3" y2="940" stroke="#707070" stroke-opacity="0.25" stroke-width="1.2"/><line x1="1163.3" y1="940" x2="1182.3" y2="972.91" stroke="#707070" stroke-opacity="0.25" stroke-width="1.2"/><line x1="1163.3" y1="940" x2="1144.3" y2="972.91" stroke="#707070" stroke-opacity="0.25" stroke-width="1.2"/><line x1="1163.3" y1="940" x2="1125.3" y2="940" stroke="#707070" stroke-opacity="0.25" stroke-width="1.2"/><line x1="1163.3" y1="940" x2="1144.3" y2="907.09" stroke="#707070" stroke-opacity="0.25" stroke-width="1.2"/><line x1="1163.3" y1="940" x2="1182.3" y2="907.09" stroke="#707070" stroke-opacity="0.25" stroke-width="1.2"/><ellipse cx="1184.05" cy="948.4" rx="6" ry="5" fill="url(#gHi)"/><ellipse cx="1164.3" cy="959.8" rx="6" ry="5" fill="url(#gHi)"/><ellipse cx="1144.55" cy="948.4" rx="6" ry="5" fill="url(#gHi)"/><ellipse cx="1144.55" cy="925.6" rx="6" ry="5" fill="url(#gHi)"/><ellipse cx="1164.3" cy="914.2" rx="6" ry="5" fill="url(#gHi)"/><ellipse cx="1184.05" cy="925.6" rx="6" ry="5" fill="url(#gHi)"/>
<path d="M1274.3,980 L1255.8,1012.04 L1218.8,1012.04 L1200.3,980 L1218.8,947.96 L1255.8,947.96 Z" fill="url(#gHex)" stroke="#b0b0b0" stroke-width="3" stroke-linejoin="round"/><path d="M1237.3,980 L1274.3,980 L1255.8,1012.04 Z" fill="#000" fill-opacity="0.05"/><path d="M1237.3,980 L1255.8,1012.04 L1218.8,1012.04 Z" fill="#000" fill-opacity="0.07"/><path d="M1237.3,980 L1218.8,1012.04 L1200.3,980 Z" fill="#000" fill-opacity="0.05"/><path d="M1237.3,980 L1200.3,980 L1218.8,947.96 Z" fill="#fff" fill-opacity="0.1"/><path d="M1237.3,980 L1218.8,947.96 L1255.8,947.96 Z" fill="#fff" fill-opacity="0.14"/><path d="M1237.3,980 L1255.8,947.96 L1274.3,980 Z" fill="#fff" fill-opacity="0.1"/><line x1="1237.3" y1="980" x2="1274.3" y2="980" stroke="#707070" stroke-opacity="0.25" stroke-width="1.2"/><line x1="1237.3" y1="980" x2="1255.8" y2="1012.04" stroke="#707070" stroke-opacity="0.25" stroke-width="1.2"/><line x1="1237.3" y1="980" x2="1218.8" y2="1012.04" stroke="#707070" stroke-opacity="0.25" stroke-width="1.2"/><line x1="1237.3" y1="980" x2="1200.3" y2="980" stroke="#707070" stroke-opacity="0.25" stroke-width="1.2"/><line x1="1237.3" y1="980" x2="1218.8" y2="947.96" stroke="#707070" stroke-opacity="0.25" stroke-width="1.2"/><line x1="1237.3" y1="980" x2="1255.8" y2="947.96" stroke="#707070" stroke-opacity="0.25" stroke-width="1.2"/><ellipse cx="1257.53" cy="988.1" rx="6" ry="5" fill="url(#gHi)"/><ellipse cx="1238.3" cy="999.2" rx="6" ry="5" fill="url(#gHi)"/><ellipse cx="1219.07" cy="988.1" rx="6" ry="5" fill="url(#gHi)"/><ellipse cx="1219.07" cy="965.9" rx="6" ry="5" fill="url(#gHi)"/><ellipse cx="1238.3" cy="954.8" rx="6" ry="5" fill="url(#gHi)"/><ellipse cx="1257.53" cy="965.9" rx="6" ry="5" fill="url(#gHi)"/>
<circle cx="1046.8" cy="642.5" r="17" fill="url(#gN)"/>
<circle cx="1235.4" cy="661.2" r="17" fill="url(#gN)"/>
<circle cx="1137" cy="674.8" r="16" fill="url(#gN)"/>
<circle cx="1105.2" cy="720.2" r="17" fill="url(#gN)"/>
<circle cx="1162.7" cy="720.2" r="17" fill="url(#gN)"/>
<circle cx="1125.1" cy="816.2" r="18.5" fill="url(#gN)"/>
<circle cx="1132.4" cy="910.9" r="12" fill="url(#gN)"/>
<circle cx="1059.8" cy="960.9" r="17" fill="url(#gN)"/>
<circle cx="1220.3" cy="945.7" r="17" fill="url(#gN)"/>
<circle cx="1091.6" cy="961.9" r="15" fill="url(#gH)"/>
<circle cx="1127.9" cy="942.2" r="14" fill="url(#gH)"/>
<circle cx="1165.8" cy="896.7" r="15" fill="url(#gH)"/>
<circle cx="1106.3" cy="815.1" r="13.5" fill="url(#gP)"/>
</g>
<path d="M1013.2,590.8 H1255.2" stroke="#3a3a3a" stroke-width="2.2" stroke-dasharray="7.5 6.3" fill="none" stroke-dashoffset="-6"/>
<path d="M1013.2,1035.5 H1255.2" stroke="#3a3a3a" stroke-width="2.2" stroke-dasharray="7.5 6.3" fill="none" stroke-dashoffset="-6"/>
<path d="M1013.2,590.8 V1035.5" stroke="#3a3a3a" stroke-width="2.2" stroke-dasharray="7.5 6.3" fill="none" stroke-dashoffset="1"/>
<path d="M1255.2,590.8 V1035.5" stroke="#3a3a3a" stroke-width="2.2" stroke-dasharray="7.5 6.3" fill="none" stroke-dashoffset="1"/>
<path d="M837.8,690.7 L877.2,690.7 L877.2,866.5 L896.8,866.5 L857.6,905.3 L821.6,866.5 L837.8,866.5 Z" fill="url(#gArrow)"/>
<path d="M1123.6,690.3 L1144.3,690.3 L1144.3,887.5 L1150.3,887.5 L1134,907.5 L1115.8,887.5 L1123.6,887.5 Z" fill="url(#gArrow)"/>
<text x="894.6" y="814.5" font-size="28.5" text-anchor="start" font-weight="normal" fill="#EC1A2C" font-family='"Liberation Sans", Arial, Helvetica, sans-serif'>IRCT</text>
<text x="1173.8" y="814.3" font-size="28.5" text-anchor="start" font-weight="normal" fill="#EC1A2C" font-family='"Liberation Sans", Arial, Helvetica, sans-serif'>IRCT</text>
<circle cx="835.3" cy="1076" r="22.3" fill="url(#gCL)"/>
<circle cx="956.5" cy="1076.4" r="21.3" fill="url(#gNL)"/>
<circle cx="1064.5" cy="1076.5" r="16.2" fill="url(#gHL)"/>
<circle cx="1103" cy="1076.5" r="17" fill="url(#gPL)"/>
<ellipse cx="842" cy="1068" rx="4.5" ry="3.82" fill="url(#gHi)"/>
<ellipse cx="963" cy="1068.5" rx="4.5" ry="3.82" fill="url(#gHi)"/>
<ellipse cx="1110" cy="1070" rx="3.5" ry="2.98" fill="url(#gHi)"/>
<ellipse cx="1059" cy="1069" rx="4" ry="3.4" fill="url(#gHi)"/>
<text x="867.5" y="1087.7" font-size="28" text-anchor="start" font-weight="normal" fill="#000" font-family='"Liberation Sans", Arial, Helvetica, sans-serif'>C</text>
<text x="985.5" y="1087.7" font-size="28" text-anchor="start" font-weight="normal" fill="#000" font-family='"Liberation Sans", Arial, Helvetica, sans-serif'>N</text>
<text x="1127" y="1087.7" font-size="28" text-anchor="start" font-weight="normal" fill="#000" font-family='"Liberation Sans", Arial, Helvetica, sans-serif'>H</text>
<text x="1327" y="598.5" font-size="29" text-anchor="start" font-weight="bold" fill="#000" font-family='"Liberation Sans", Arial, Helvetica, sans-serif'>f</text>
<rect x="1542.2" y="808.95" width="49.9" height="226.55" fill="#1CA1CF"/>
<rect x="1591.5" y="631.65" width="49.3" height="403.85" fill="#FF80C0"/>
<rect x="1739.2" y="996.1" width="49.8" height="39.4" fill="#1CA1CF"/>
<rect x="1788.4" y="877.9" width="49" height="157.6" fill="#FF80C0"/>
<rect x="1418.5" y="592.3" width="540.8" height="443.2" fill="none" stroke="#000" stroke-width="3"/>
<line x1="1410" y1="1035.5" x2="1418.5" y2="1035.5" stroke="#000" stroke-width="3" stroke-linecap="butt"/>
<text x="1406" y="1044" font-size="28" text-anchor="end" font-weight="normal" fill="#000" font-family='"Liberation Sans", Arial, Helvetica, sans-serif'>0.0</text>
<line x1="1410" y1="937" x2="1418.5" y2="937" stroke="#000" stroke-width="3" stroke-linecap="butt"/>
<text x="1406" y="945.5" font-size="28" text-anchor="end" font-weight="normal" fill="#000" font-family='"Liberation Sans", Arial, Helvetica, sans-serif'>0.1</text>
<line x1="1410" y1="838.5" x2="1418.5" y2="838.5" stroke="#000" stroke-width="3" stroke-linecap="butt"/>
<text x="1406" y="847" font-size="28" text-anchor="end" font-weight="normal" fill="#000" font-family='"Liberation Sans", Arial, Helvetica, sans-serif'>0.2</text>
<line x1="1410" y1="740" x2="1418.5" y2="740" stroke="#000" stroke-width="3" stroke-linecap="butt"/>
<text x="1406" y="748.5" font-size="28" text-anchor="end" font-weight="normal" fill="#000" font-family='"Liberation Sans", Arial, Helvetica, sans-serif'>0.3</text>
<line x1="1410" y1="641.5" x2="1418.5" y2="641.5" stroke="#000" stroke-width="3" stroke-linecap="butt"/>
<text x="1406" y="650" font-size="28" text-anchor="end" font-weight="normal" fill="#000" font-family='"Liberation Sans", Arial, Helvetica, sans-serif'>0.4</text>
<line x1="1413.5" y1="986.25" x2="1418.5" y2="986.25" stroke="#000" stroke-width="3" stroke-linecap="butt"/>
<line x1="1413.5" y1="887.75" x2="1418.5" y2="887.75" stroke="#000" stroke-width="3" stroke-linecap="butt"/>
<line x1="1413.5" y1="789.25" x2="1418.5" y2="789.25" stroke="#000" stroke-width="3" stroke-linecap="butt"/>
<line x1="1413.5" y1="690.75" x2="1418.5" y2="690.75" stroke="#000" stroke-width="3" stroke-linecap="butt"/>
<rect x="1738" y="608.2" width="61.5" height="30.6" fill="#1CA1CF"/>
<rect x="1738" y="642.4" width="61.5" height="30.3" fill="#FF80C0"/>
<text x="1806.5" y="633.4" font-size="28" text-anchor="start" font-weight="normal" fill="#000" font-family='"Liberation Sans", Arial, Helvetica, sans-serif'>Pristine</text>
<text x="1806.5" y="667" font-size="28" text-anchor="start" font-weight="normal" fill="#000" font-family='"Liberation Sans", Arial, Helvetica, sans-serif'>Protonated</text>
<text x="1591.5" y="1085" font-size="28" text-anchor="middle" font-weight="normal" fill="#000" font-family='"Liberation Sans", Arial, Helvetica, sans-serif'>Electron</text>
<text x="1788.4" y="1085" font-size="28" text-anchor="middle" font-weight="normal" fill="#000" font-family='"Liberation Sans", Arial, Helvetica, sans-serif'>Hole</text>
<text transform="translate(1345.2,833.5) rotate(-90)" text-anchor="middle" font-size="28" font-family='"Liberation Sans", Arial, Helvetica, sans-serif'>Effective mass (m<tspan font-size="17" dy="6">0</tspan><tspan dy="-6">)</tspan></text>
</svg></body></html>
